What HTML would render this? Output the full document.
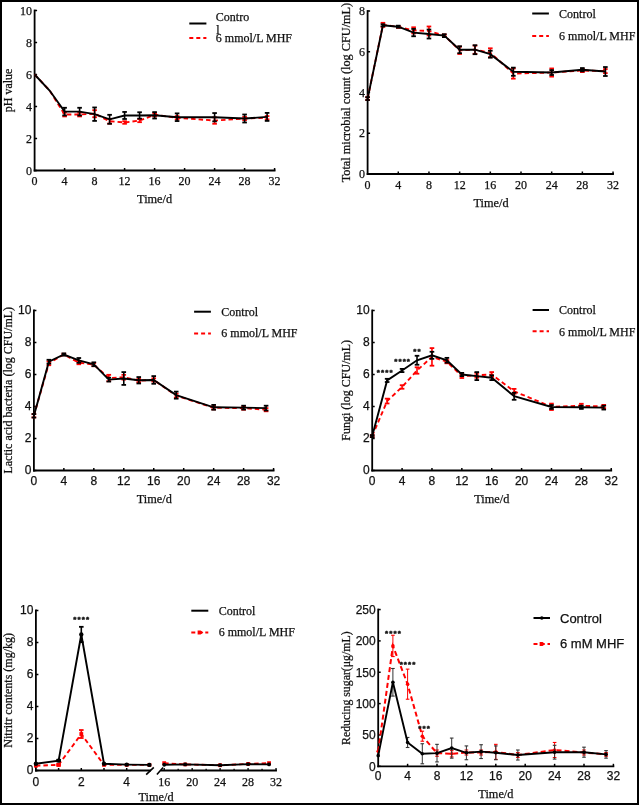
<!DOCTYPE html>
<html><head><meta charset="utf-8"><title>Figure</title>
<style>html,body{margin:0;padding:0;background:#fff;}svg{display:block;will-change:transform;}text{stroke:#111;stroke-width:0.25px;}</style>
</head><body>
<svg width="639" height="805" viewBox="0 0 639 805">
<rect x="0" y="0" width="639" height="805" fill="#fff"/>
<line x1="34.6" y1="9.6" x2="34.6" y2="171.4" stroke="#000" stroke-width="1.8" stroke-linecap="butt"/>
<line x1="33.7" y1="170.5" x2="275.5" y2="170.5" stroke="#000" stroke-width="1.8" stroke-linecap="butt"/>
<line x1="34.6" y1="170.5" x2="37.1" y2="170.5" stroke="#000" stroke-width="1.5" stroke-linecap="butt"/>
<text x="32.1" y="174.6" font-size="12" font-family="'Liberation Serif', 'Times New Roman', serif" text-anchor="end" fill="#111">0</text>
<line x1="34.6" y1="138.5" x2="37.1" y2="138.5" stroke="#000" stroke-width="1.5" stroke-linecap="butt"/>
<text x="32.1" y="142.6" font-size="12" font-family="'Liberation Serif', 'Times New Roman', serif" text-anchor="end" fill="#111">2</text>
<line x1="34.6" y1="106.5" x2="37.1" y2="106.5" stroke="#000" stroke-width="1.5" stroke-linecap="butt"/>
<text x="32.1" y="110.6" font-size="12" font-family="'Liberation Serif', 'Times New Roman', serif" text-anchor="end" fill="#111">4</text>
<line x1="34.6" y1="74.5" x2="37.1" y2="74.5" stroke="#000" stroke-width="1.5" stroke-linecap="butt"/>
<text x="32.1" y="78.6" font-size="12" font-family="'Liberation Serif', 'Times New Roman', serif" text-anchor="end" fill="#111">6</text>
<line x1="34.6" y1="42.5" x2="37.1" y2="42.5" stroke="#000" stroke-width="1.5" stroke-linecap="butt"/>
<text x="32.1" y="46.6" font-size="12" font-family="'Liberation Serif', 'Times New Roman', serif" text-anchor="end" fill="#111">8</text>
<line x1="34.6" y1="10.5" x2="37.1" y2="10.5" stroke="#000" stroke-width="1.5" stroke-linecap="butt"/>
<text x="32.1" y="14.6" font-size="12" font-family="'Liberation Serif', 'Times New Roman', serif" text-anchor="end" fill="#111">10</text>
<text x="34.6" y="184.5" font-size="12" font-family="'Liberation Serif', 'Times New Roman', serif" text-anchor="middle" fill="#111">0</text>
<line x1="64.6" y1="170.5" x2="64.6" y2="168" stroke="#000" stroke-width="1.5" stroke-linecap="butt"/>
<text x="64.6" y="184.5" font-size="12" font-family="'Liberation Serif', 'Times New Roman', serif" text-anchor="middle" fill="#111">4</text>
<line x1="94.6" y1="170.5" x2="94.6" y2="168" stroke="#000" stroke-width="1.5" stroke-linecap="butt"/>
<text x="94.6" y="184.5" font-size="12" font-family="'Liberation Serif', 'Times New Roman', serif" text-anchor="middle" fill="#111">8</text>
<line x1="124.6" y1="170.5" x2="124.6" y2="168" stroke="#000" stroke-width="1.5" stroke-linecap="butt"/>
<text x="124.6" y="184.5" font-size="12" font-family="'Liberation Serif', 'Times New Roman', serif" text-anchor="middle" fill="#111">12</text>
<line x1="154.6" y1="170.5" x2="154.6" y2="168" stroke="#000" stroke-width="1.5" stroke-linecap="butt"/>
<text x="154.6" y="184.5" font-size="12" font-family="'Liberation Serif', 'Times New Roman', serif" text-anchor="middle" fill="#111">16</text>
<line x1="184.6" y1="170.5" x2="184.6" y2="168" stroke="#000" stroke-width="1.5" stroke-linecap="butt"/>
<text x="184.6" y="184.5" font-size="12" font-family="'Liberation Serif', 'Times New Roman', serif" text-anchor="middle" fill="#111">20</text>
<line x1="214.6" y1="170.5" x2="214.6" y2="168" stroke="#000" stroke-width="1.5" stroke-linecap="butt"/>
<text x="214.6" y="184.5" font-size="12" font-family="'Liberation Serif', 'Times New Roman', serif" text-anchor="middle" fill="#111">24</text>
<line x1="244.6" y1="170.5" x2="244.6" y2="168" stroke="#000" stroke-width="1.5" stroke-linecap="butt"/>
<text x="244.6" y="184.5" font-size="12" font-family="'Liberation Serif', 'Times New Roman', serif" text-anchor="middle" fill="#111">28</text>
<line x1="274.6" y1="170.5" x2="274.6" y2="168" stroke="#000" stroke-width="1.5" stroke-linecap="butt"/>
<text x="274.6" y="184.5" font-size="12" font-family="'Liberation Serif', 'Times New Roman', serif" text-anchor="middle" fill="#111">32</text>
<line x1="64.6" y1="112.58" x2="64.6" y2="116.42" stroke="#f00" stroke-width="1.6" stroke-linecap="butt"/>
<line x1="62.3" y1="112.58" x2="66.9" y2="112.58" stroke="#f00" stroke-width="1.8" stroke-linecap="butt"/>
<line x1="62.3" y1="116.42" x2="66.9" y2="116.42" stroke="#f00" stroke-width="1.8" stroke-linecap="butt"/>
<line x1="79.6" y1="112.58" x2="79.6" y2="116.42" stroke="#f00" stroke-width="1.6" stroke-linecap="butt"/>
<line x1="77.3" y1="112.58" x2="81.9" y2="112.58" stroke="#f00" stroke-width="1.8" stroke-linecap="butt"/>
<line x1="77.3" y1="116.42" x2="81.9" y2="116.42" stroke="#f00" stroke-width="1.8" stroke-linecap="butt"/>
<line x1="94.6" y1="110.18" x2="94.6" y2="117.22" stroke="#f00" stroke-width="1.6" stroke-linecap="butt"/>
<line x1="92.3" y1="110.18" x2="96.9" y2="110.18" stroke="#f00" stroke-width="1.8" stroke-linecap="butt"/>
<line x1="92.3" y1="117.22" x2="96.9" y2="117.22" stroke="#f00" stroke-width="1.8" stroke-linecap="butt"/>
<line x1="109.6" y1="118.82" x2="109.6" y2="123.62" stroke="#f00" stroke-width="1.6" stroke-linecap="butt"/>
<line x1="107.3" y1="118.82" x2="111.9" y2="118.82" stroke="#f00" stroke-width="1.8" stroke-linecap="butt"/>
<line x1="107.3" y1="123.62" x2="111.9" y2="123.62" stroke="#f00" stroke-width="1.8" stroke-linecap="butt"/>
<line x1="124.6" y1="121.22" x2="124.6" y2="123.78" stroke="#f00" stroke-width="1.6" stroke-linecap="butt"/>
<line x1="122.3" y1="121.22" x2="126.9" y2="121.22" stroke="#f00" stroke-width="1.8" stroke-linecap="butt"/>
<line x1="122.3" y1="123.78" x2="126.9" y2="123.78" stroke="#f00" stroke-width="1.8" stroke-linecap="butt"/>
<line x1="139.6" y1="118.98" x2="139.6" y2="122.18" stroke="#f00" stroke-width="1.6" stroke-linecap="butt"/>
<line x1="137.3" y1="118.98" x2="141.9" y2="118.98" stroke="#f00" stroke-width="1.8" stroke-linecap="butt"/>
<line x1="137.3" y1="122.18" x2="141.9" y2="122.18" stroke="#f00" stroke-width="1.8" stroke-linecap="butt"/>
<line x1="154.6" y1="113.22" x2="154.6" y2="116.42" stroke="#f00" stroke-width="1.6" stroke-linecap="butt"/>
<line x1="152.3" y1="113.22" x2="156.9" y2="113.22" stroke="#f00" stroke-width="1.8" stroke-linecap="butt"/>
<line x1="152.3" y1="116.42" x2="156.9" y2="116.42" stroke="#f00" stroke-width="1.8" stroke-linecap="butt"/>
<line x1="177.1" y1="116.1" x2="177.1" y2="119.3" stroke="#f00" stroke-width="1.6" stroke-linecap="butt"/>
<line x1="174.8" y1="116.1" x2="179.4" y2="116.1" stroke="#f00" stroke-width="1.8" stroke-linecap="butt"/>
<line x1="174.8" y1="119.3" x2="179.4" y2="119.3" stroke="#f00" stroke-width="1.8" stroke-linecap="butt"/>
<line x1="214.6" y1="117.38" x2="214.6" y2="123.78" stroke="#f00" stroke-width="1.6" stroke-linecap="butt"/>
<line x1="212.3" y1="117.38" x2="216.9" y2="117.38" stroke="#f00" stroke-width="1.8" stroke-linecap="butt"/>
<line x1="212.3" y1="123.78" x2="216.9" y2="123.78" stroke="#f00" stroke-width="1.8" stroke-linecap="butt"/>
<line x1="244.6" y1="116.9" x2="244.6" y2="120.1" stroke="#f00" stroke-width="1.6" stroke-linecap="butt"/>
<line x1="242.3" y1="116.9" x2="246.9" y2="116.9" stroke="#f00" stroke-width="1.8" stroke-linecap="butt"/>
<line x1="242.3" y1="120.1" x2="246.9" y2="120.1" stroke="#f00" stroke-width="1.8" stroke-linecap="butt"/>
<line x1="267.1" y1="116.1" x2="267.1" y2="119.3" stroke="#f00" stroke-width="1.6" stroke-linecap="butt"/>
<line x1="264.8" y1="116.1" x2="269.4" y2="116.1" stroke="#f00" stroke-width="1.8" stroke-linecap="butt"/>
<line x1="264.8" y1="119.3" x2="269.4" y2="119.3" stroke="#f00" stroke-width="1.8" stroke-linecap="butt"/>
<polyline points="34.6,74.5 49.6,90.5 64.6,114.5 79.6,114.5 94.6,113.7 109.6,121.22 124.6,122.5 139.6,120.58 154.6,114.82 177.1,117.7 214.6,120.58 244.6,118.5 267.1,117.7" fill="none" stroke="#f00" stroke-width="1.9" stroke-linejoin="miter" stroke-dasharray="4.5,3"/>
<line x1="64.6" y1="107.78" x2="64.6" y2="115.46" stroke="#000" stroke-width="1.6" stroke-linecap="butt"/>
<line x1="62.3" y1="107.78" x2="66.9" y2="107.78" stroke="#000" stroke-width="1.8" stroke-linecap="butt"/>
<line x1="62.3" y1="115.46" x2="66.9" y2="115.46" stroke="#000" stroke-width="1.8" stroke-linecap="butt"/>
<line x1="79.6" y1="107.78" x2="79.6" y2="115.46" stroke="#000" stroke-width="1.6" stroke-linecap="butt"/>
<line x1="77.3" y1="107.78" x2="81.9" y2="107.78" stroke="#000" stroke-width="1.8" stroke-linecap="butt"/>
<line x1="77.3" y1="115.46" x2="81.9" y2="115.46" stroke="#000" stroke-width="1.8" stroke-linecap="butt"/>
<line x1="94.6" y1="107.46" x2="94.6" y2="120.9" stroke="#000" stroke-width="1.6" stroke-linecap="butt"/>
<line x1="92.3" y1="107.46" x2="96.9" y2="107.46" stroke="#000" stroke-width="1.8" stroke-linecap="butt"/>
<line x1="92.3" y1="120.9" x2="96.9" y2="120.9" stroke="#000" stroke-width="1.8" stroke-linecap="butt"/>
<line x1="109.6" y1="114.82" x2="109.6" y2="123.78" stroke="#000" stroke-width="1.6" stroke-linecap="butt"/>
<line x1="107.3" y1="114.82" x2="111.9" y2="114.82" stroke="#000" stroke-width="1.8" stroke-linecap="butt"/>
<line x1="107.3" y1="123.78" x2="111.9" y2="123.78" stroke="#000" stroke-width="1.8" stroke-linecap="butt"/>
<line x1="124.6" y1="111.94" x2="124.6" y2="118.98" stroke="#000" stroke-width="1.6" stroke-linecap="butt"/>
<line x1="122.3" y1="111.94" x2="126.9" y2="111.94" stroke="#000" stroke-width="1.8" stroke-linecap="butt"/>
<line x1="122.3" y1="118.98" x2="126.9" y2="118.98" stroke="#000" stroke-width="1.8" stroke-linecap="butt"/>
<line x1="139.6" y1="112.26" x2="139.6" y2="118.66" stroke="#000" stroke-width="1.6" stroke-linecap="butt"/>
<line x1="137.3" y1="112.26" x2="141.9" y2="112.26" stroke="#000" stroke-width="1.8" stroke-linecap="butt"/>
<line x1="137.3" y1="118.66" x2="141.9" y2="118.66" stroke="#000" stroke-width="1.8" stroke-linecap="butt"/>
<line x1="154.6" y1="112.1" x2="154.6" y2="118.5" stroke="#000" stroke-width="1.6" stroke-linecap="butt"/>
<line x1="152.3" y1="112.1" x2="156.9" y2="112.1" stroke="#000" stroke-width="1.8" stroke-linecap="butt"/>
<line x1="152.3" y1="118.5" x2="156.9" y2="118.5" stroke="#000" stroke-width="1.8" stroke-linecap="butt"/>
<line x1="177.1" y1="113.38" x2="177.1" y2="121.06" stroke="#000" stroke-width="1.6" stroke-linecap="butt"/>
<line x1="174.8" y1="113.38" x2="179.4" y2="113.38" stroke="#000" stroke-width="1.8" stroke-linecap="butt"/>
<line x1="174.8" y1="121.06" x2="179.4" y2="121.06" stroke="#000" stroke-width="1.8" stroke-linecap="butt"/>
<line x1="214.6" y1="113.06" x2="214.6" y2="121.38" stroke="#000" stroke-width="1.6" stroke-linecap="butt"/>
<line x1="212.3" y1="113.06" x2="216.9" y2="113.06" stroke="#000" stroke-width="1.8" stroke-linecap="butt"/>
<line x1="212.3" y1="121.38" x2="216.9" y2="121.38" stroke="#000" stroke-width="1.8" stroke-linecap="butt"/>
<line x1="244.6" y1="114.5" x2="244.6" y2="122.5" stroke="#000" stroke-width="1.6" stroke-linecap="butt"/>
<line x1="242.3" y1="114.5" x2="246.9" y2="114.5" stroke="#000" stroke-width="1.8" stroke-linecap="butt"/>
<line x1="242.3" y1="122.5" x2="246.9" y2="122.5" stroke="#000" stroke-width="1.8" stroke-linecap="butt"/>
<line x1="267.1" y1="112.9" x2="267.1" y2="120.9" stroke="#000" stroke-width="1.6" stroke-linecap="butt"/>
<line x1="264.8" y1="112.9" x2="269.4" y2="112.9" stroke="#000" stroke-width="1.8" stroke-linecap="butt"/>
<line x1="264.8" y1="120.9" x2="269.4" y2="120.9" stroke="#000" stroke-width="1.8" stroke-linecap="butt"/>
<polyline points="34.6,74.5 49.6,90.5 64.6,111.62 79.6,111.62 94.6,114.18 109.6,119.3 124.6,115.46 139.6,115.46 154.6,115.3 177.1,117.22 214.6,117.22 244.6,118.5 267.1,116.9" fill="none" stroke="#000" stroke-width="1.9" stroke-linejoin="miter"/>
<text x="11.9" y="90.4" font-size="12" font-family="'Liberation Serif', 'Times New Roman', serif" text-anchor="middle" fill="#111" transform="rotate(-90 11.9 90.4)">pH value</text>
<text x="154.6" y="203" font-size="12.3" font-family="'Liberation Serif', 'Times New Roman', serif" text-anchor="middle" fill="#111">Time/d</text>
<line x1="189.3" y1="23.5" x2="206.4" y2="23.5" stroke="#000" stroke-width="2" stroke-linecap="butt"/>
<line x1="189.3" y1="38" x2="206.4" y2="38" stroke="#f00" stroke-width="2" stroke-linecap="butt" stroke-dasharray="4,3"/>
<text x="215.8" y="20.7" font-size="12" font-family="'Liberation Serif', 'Times New Roman', serif" text-anchor="start" fill="#111">Contro</text>
<text x="216.2" y="33.6" font-size="12" font-family="'Liberation Serif', 'Times New Roman', serif" text-anchor="start" fill="#111">l</text>
<text x="215.8" y="42.3" font-size="12" font-family="'Liberation Serif', 'Times New Roman', serif" text-anchor="start" fill="#111">6 mmol/L MHF</text>
<line x1="367.6" y1="10.1" x2="367.6" y2="174.9" stroke="#000" stroke-width="1.8" stroke-linecap="butt"/>
<line x1="366.7" y1="174" x2="613.94" y2="174" stroke="#000" stroke-width="1.8" stroke-linecap="butt"/>
<line x1="367.6" y1="174" x2="370.1" y2="174" stroke="#000" stroke-width="1.5" stroke-linecap="butt"/>
<text x="365.1" y="178.1" font-size="12" font-family="'Liberation Serif', 'Times New Roman', serif" text-anchor="end" fill="#111">0</text>
<line x1="367.6" y1="133.25" x2="370.1" y2="133.25" stroke="#000" stroke-width="1.5" stroke-linecap="butt"/>
<text x="365.1" y="137.35" font-size="12" font-family="'Liberation Serif', 'Times New Roman', serif" text-anchor="end" fill="#111">2</text>
<line x1="367.6" y1="92.5" x2="370.1" y2="92.5" stroke="#000" stroke-width="1.5" stroke-linecap="butt"/>
<text x="365.1" y="96.6" font-size="12" font-family="'Liberation Serif', 'Times New Roman', serif" text-anchor="end" fill="#111">4</text>
<line x1="367.6" y1="51.75" x2="370.1" y2="51.75" stroke="#000" stroke-width="1.5" stroke-linecap="butt"/>
<text x="365.1" y="55.85" font-size="12" font-family="'Liberation Serif', 'Times New Roman', serif" text-anchor="end" fill="#111">6</text>
<line x1="367.6" y1="11" x2="370.1" y2="11" stroke="#000" stroke-width="1.5" stroke-linecap="butt"/>
<text x="365.1" y="15.1" font-size="12" font-family="'Liberation Serif', 'Times New Roman', serif" text-anchor="end" fill="#111">8</text>
<text x="367.6" y="189" font-size="12" font-family="'Liberation Serif', 'Times New Roman', serif" text-anchor="middle" fill="#111">0</text>
<line x1="398.28" y1="174" x2="398.28" y2="171.5" stroke="#000" stroke-width="1.5" stroke-linecap="butt"/>
<text x="398.28" y="189" font-size="12" font-family="'Liberation Serif', 'Times New Roman', serif" text-anchor="middle" fill="#111">4</text>
<line x1="428.96" y1="174" x2="428.96" y2="171.5" stroke="#000" stroke-width="1.5" stroke-linecap="butt"/>
<text x="428.96" y="189" font-size="12" font-family="'Liberation Serif', 'Times New Roman', serif" text-anchor="middle" fill="#111">8</text>
<line x1="459.64" y1="174" x2="459.64" y2="171.5" stroke="#000" stroke-width="1.5" stroke-linecap="butt"/>
<text x="459.64" y="189" font-size="12" font-family="'Liberation Serif', 'Times New Roman', serif" text-anchor="middle" fill="#111">12</text>
<line x1="490.32" y1="174" x2="490.32" y2="171.5" stroke="#000" stroke-width="1.5" stroke-linecap="butt"/>
<text x="490.32" y="189" font-size="12" font-family="'Liberation Serif', 'Times New Roman', serif" text-anchor="middle" fill="#111">16</text>
<line x1="521" y1="174" x2="521" y2="171.5" stroke="#000" stroke-width="1.5" stroke-linecap="butt"/>
<text x="521" y="189" font-size="12" font-family="'Liberation Serif', 'Times New Roman', serif" text-anchor="middle" fill="#111">20</text>
<line x1="551.68" y1="174" x2="551.68" y2="171.5" stroke="#000" stroke-width="1.5" stroke-linecap="butt"/>
<text x="551.68" y="189" font-size="12" font-family="'Liberation Serif', 'Times New Roman', serif" text-anchor="middle" fill="#111">24</text>
<line x1="582.36" y1="174" x2="582.36" y2="171.5" stroke="#000" stroke-width="1.5" stroke-linecap="butt"/>
<text x="582.36" y="189" font-size="12" font-family="'Liberation Serif', 'Times New Roman', serif" text-anchor="middle" fill="#111">28</text>
<line x1="613.04" y1="174" x2="613.04" y2="171.5" stroke="#000" stroke-width="1.5" stroke-linecap="butt"/>
<text x="613.04" y="189" font-size="12" font-family="'Liberation Serif', 'Times New Roman', serif" text-anchor="middle" fill="#111">32</text>
<line x1="367.6" y1="97.19" x2="367.6" y2="100.04" stroke="#f00" stroke-width="1.6" stroke-linecap="butt"/>
<line x1="365.3" y1="97.19" x2="369.9" y2="97.19" stroke="#f00" stroke-width="1.8" stroke-linecap="butt"/>
<line x1="365.3" y1="100.04" x2="369.9" y2="100.04" stroke="#f00" stroke-width="1.8" stroke-linecap="butt"/>
<line x1="382.94" y1="22.82" x2="382.94" y2="26.89" stroke="#f00" stroke-width="1.6" stroke-linecap="butt"/>
<line x1="380.64" y1="22.82" x2="385.24" y2="22.82" stroke="#f00" stroke-width="1.8" stroke-linecap="butt"/>
<line x1="380.64" y1="26.89" x2="385.24" y2="26.89" stroke="#f00" stroke-width="1.8" stroke-linecap="butt"/>
<line x1="398.28" y1="25.87" x2="398.28" y2="27.91" stroke="#f00" stroke-width="1.6" stroke-linecap="butt"/>
<line x1="395.98" y1="25.87" x2="400.58" y2="25.87" stroke="#f00" stroke-width="1.8" stroke-linecap="butt"/>
<line x1="395.98" y1="27.91" x2="400.58" y2="27.91" stroke="#f00" stroke-width="1.8" stroke-linecap="butt"/>
<line x1="413.62" y1="27.3" x2="413.62" y2="33.41" stroke="#f00" stroke-width="1.6" stroke-linecap="butt"/>
<line x1="411.32" y1="27.3" x2="415.92" y2="27.3" stroke="#f00" stroke-width="1.8" stroke-linecap="butt"/>
<line x1="411.32" y1="33.41" x2="415.92" y2="33.41" stroke="#f00" stroke-width="1.8" stroke-linecap="butt"/>
<line x1="428.96" y1="26.49" x2="428.96" y2="35.45" stroke="#f00" stroke-width="1.6" stroke-linecap="butt"/>
<line x1="426.66" y1="26.49" x2="431.26" y2="26.49" stroke="#f00" stroke-width="1.8" stroke-linecap="butt"/>
<line x1="426.66" y1="35.45" x2="431.26" y2="35.45" stroke="#f00" stroke-width="1.8" stroke-linecap="butt"/>
<line x1="444.3" y1="34.43" x2="444.3" y2="36.47" stroke="#f00" stroke-width="1.6" stroke-linecap="butt"/>
<line x1="442" y1="34.43" x2="446.6" y2="34.43" stroke="#f00" stroke-width="1.8" stroke-linecap="butt"/>
<line x1="442" y1="36.47" x2="446.6" y2="36.47" stroke="#f00" stroke-width="1.8" stroke-linecap="butt"/>
<line x1="459.64" y1="46.66" x2="459.64" y2="53.99" stroke="#f00" stroke-width="1.6" stroke-linecap="butt"/>
<line x1="457.34" y1="46.66" x2="461.94" y2="46.66" stroke="#f00" stroke-width="1.8" stroke-linecap="butt"/>
<line x1="457.34" y1="53.99" x2="461.94" y2="53.99" stroke="#f00" stroke-width="1.8" stroke-linecap="butt"/>
<line x1="474.98" y1="45.64" x2="474.98" y2="53.79" stroke="#f00" stroke-width="1.6" stroke-linecap="butt"/>
<line x1="472.68" y1="45.64" x2="477.28" y2="45.64" stroke="#f00" stroke-width="1.8" stroke-linecap="butt"/>
<line x1="472.68" y1="53.79" x2="477.28" y2="53.79" stroke="#f00" stroke-width="1.8" stroke-linecap="butt"/>
<line x1="490.32" y1="48.29" x2="490.32" y2="57.25" stroke="#f00" stroke-width="1.6" stroke-linecap="butt"/>
<line x1="488.02" y1="48.29" x2="492.62" y2="48.29" stroke="#f00" stroke-width="1.8" stroke-linecap="butt"/>
<line x1="488.02" y1="57.25" x2="492.62" y2="57.25" stroke="#f00" stroke-width="1.8" stroke-linecap="butt"/>
<line x1="513.33" y1="68.46" x2="513.33" y2="78.65" stroke="#f00" stroke-width="1.6" stroke-linecap="butt"/>
<line x1="511.03" y1="68.46" x2="515.63" y2="68.46" stroke="#f00" stroke-width="1.8" stroke-linecap="butt"/>
<line x1="511.03" y1="78.65" x2="515.63" y2="78.65" stroke="#f00" stroke-width="1.8" stroke-linecap="butt"/>
<line x1="551.68" y1="68.46" x2="551.68" y2="76.61" stroke="#f00" stroke-width="1.6" stroke-linecap="butt"/>
<line x1="549.38" y1="68.46" x2="553.98" y2="68.46" stroke="#f00" stroke-width="1.8" stroke-linecap="butt"/>
<line x1="549.38" y1="76.61" x2="553.98" y2="76.61" stroke="#f00" stroke-width="1.8" stroke-linecap="butt"/>
<line x1="582.36" y1="68.86" x2="582.36" y2="72.12" stroke="#f00" stroke-width="1.6" stroke-linecap="butt"/>
<line x1="580.06" y1="68.86" x2="584.66" y2="68.86" stroke="#f00" stroke-width="1.8" stroke-linecap="butt"/>
<line x1="580.06" y1="72.12" x2="584.66" y2="72.12" stroke="#f00" stroke-width="1.8" stroke-linecap="butt"/>
<line x1="605.37" y1="69.07" x2="605.37" y2="73.14" stroke="#f00" stroke-width="1.6" stroke-linecap="butt"/>
<line x1="603.07" y1="69.07" x2="607.67" y2="69.07" stroke="#f00" stroke-width="1.8" stroke-linecap="butt"/>
<line x1="603.07" y1="73.14" x2="607.67" y2="73.14" stroke="#f00" stroke-width="1.8" stroke-linecap="butt"/>
<polyline points="367.6,98.61 382.94,24.85 398.28,26.89 413.62,30.36 428.96,30.97 444.3,35.45 459.64,50.32 474.98,49.71 490.32,52.77 513.33,73.55 551.68,72.53 582.36,70.5 605.37,71.11" fill="none" stroke="#f00" stroke-width="1.9" stroke-linejoin="miter" stroke-dasharray="4.5,3"/>
<line x1="367.6" y1="97.19" x2="367.6" y2="100.04" stroke="#000" stroke-width="1.6" stroke-linecap="butt"/>
<line x1="365.3" y1="97.19" x2="369.9" y2="97.19" stroke="#000" stroke-width="1.8" stroke-linecap="butt"/>
<line x1="365.3" y1="100.04" x2="369.9" y2="100.04" stroke="#000" stroke-width="1.8" stroke-linecap="butt"/>
<line x1="382.94" y1="24.24" x2="382.94" y2="26.28" stroke="#000" stroke-width="1.6" stroke-linecap="butt"/>
<line x1="380.64" y1="24.24" x2="385.24" y2="24.24" stroke="#000" stroke-width="1.8" stroke-linecap="butt"/>
<line x1="380.64" y1="26.28" x2="385.24" y2="26.28" stroke="#000" stroke-width="1.8" stroke-linecap="butt"/>
<line x1="398.28" y1="25.67" x2="398.28" y2="27.71" stroke="#000" stroke-width="1.6" stroke-linecap="butt"/>
<line x1="395.98" y1="25.67" x2="400.58" y2="25.67" stroke="#000" stroke-width="1.8" stroke-linecap="butt"/>
<line x1="395.98" y1="27.71" x2="400.58" y2="27.71" stroke="#000" stroke-width="1.8" stroke-linecap="butt"/>
<line x1="413.62" y1="28.93" x2="413.62" y2="36.26" stroke="#000" stroke-width="1.6" stroke-linecap="butt"/>
<line x1="411.32" y1="28.93" x2="415.92" y2="28.93" stroke="#000" stroke-width="1.8" stroke-linecap="butt"/>
<line x1="411.32" y1="36.26" x2="415.92" y2="36.26" stroke="#000" stroke-width="1.8" stroke-linecap="butt"/>
<line x1="428.96" y1="29.54" x2="428.96" y2="38.51" stroke="#000" stroke-width="1.6" stroke-linecap="butt"/>
<line x1="426.66" y1="29.54" x2="431.26" y2="29.54" stroke="#000" stroke-width="1.8" stroke-linecap="butt"/>
<line x1="426.66" y1="38.51" x2="431.26" y2="38.51" stroke="#000" stroke-width="1.8" stroke-linecap="butt"/>
<line x1="444.3" y1="34.23" x2="444.3" y2="37.08" stroke="#000" stroke-width="1.6" stroke-linecap="butt"/>
<line x1="442" y1="34.23" x2="446.6" y2="34.23" stroke="#000" stroke-width="1.8" stroke-linecap="butt"/>
<line x1="442" y1="37.08" x2="446.6" y2="37.08" stroke="#000" stroke-width="1.8" stroke-linecap="butt"/>
<line x1="459.64" y1="46.25" x2="459.64" y2="53.18" stroke="#000" stroke-width="1.6" stroke-linecap="butt"/>
<line x1="457.34" y1="46.25" x2="461.94" y2="46.25" stroke="#000" stroke-width="1.8" stroke-linecap="butt"/>
<line x1="457.34" y1="53.18" x2="461.94" y2="53.18" stroke="#000" stroke-width="1.8" stroke-linecap="butt"/>
<line x1="474.98" y1="45.23" x2="474.98" y2="54.2" stroke="#000" stroke-width="1.6" stroke-linecap="butt"/>
<line x1="472.68" y1="45.23" x2="477.28" y2="45.23" stroke="#000" stroke-width="1.8" stroke-linecap="butt"/>
<line x1="472.68" y1="54.2" x2="477.28" y2="54.2" stroke="#000" stroke-width="1.8" stroke-linecap="butt"/>
<line x1="490.32" y1="50.73" x2="490.32" y2="57.66" stroke="#000" stroke-width="1.6" stroke-linecap="butt"/>
<line x1="488.02" y1="50.73" x2="492.62" y2="50.73" stroke="#000" stroke-width="1.8" stroke-linecap="butt"/>
<line x1="488.02" y1="57.66" x2="492.62" y2="57.66" stroke="#000" stroke-width="1.8" stroke-linecap="butt"/>
<line x1="513.33" y1="67.64" x2="513.33" y2="75.79" stroke="#000" stroke-width="1.6" stroke-linecap="butt"/>
<line x1="511.03" y1="67.64" x2="515.63" y2="67.64" stroke="#000" stroke-width="1.8" stroke-linecap="butt"/>
<line x1="511.03" y1="75.79" x2="515.63" y2="75.79" stroke="#000" stroke-width="1.8" stroke-linecap="butt"/>
<line x1="551.68" y1="70.09" x2="551.68" y2="74.98" stroke="#000" stroke-width="1.6" stroke-linecap="butt"/>
<line x1="549.38" y1="70.09" x2="553.98" y2="70.09" stroke="#000" stroke-width="1.8" stroke-linecap="butt"/>
<line x1="549.38" y1="74.98" x2="553.98" y2="74.98" stroke="#000" stroke-width="1.8" stroke-linecap="butt"/>
<line x1="582.36" y1="68.05" x2="582.36" y2="71.31" stroke="#000" stroke-width="1.6" stroke-linecap="butt"/>
<line x1="580.06" y1="68.05" x2="584.66" y2="68.05" stroke="#000" stroke-width="1.8" stroke-linecap="butt"/>
<line x1="580.06" y1="71.31" x2="584.66" y2="71.31" stroke="#000" stroke-width="1.8" stroke-linecap="butt"/>
<line x1="605.37" y1="67.03" x2="605.37" y2="76" stroke="#000" stroke-width="1.6" stroke-linecap="butt"/>
<line x1="603.07" y1="67.03" x2="607.67" y2="67.03" stroke="#000" stroke-width="1.8" stroke-linecap="butt"/>
<line x1="603.07" y1="76" x2="607.67" y2="76" stroke="#000" stroke-width="1.8" stroke-linecap="butt"/>
<polyline points="367.6,98.61 382.94,25.26 398.28,26.69 413.62,32.6 428.96,34.02 444.3,35.65 459.64,49.71 474.98,49.71 490.32,54.2 513.33,71.72 551.68,72.53 582.36,69.68 605.37,71.51" fill="none" stroke="#000" stroke-width="1.9" stroke-linejoin="miter"/>
<text x="350.3" y="92.6" font-size="12.25" font-family="'Liberation Serif', 'Times New Roman', serif" text-anchor="middle" fill="#111" transform="rotate(-90 350.3 92.6)">Total microbial count (log CFU/mL)</text>
<text x="491" y="207.1" font-size="12.3" font-family="'Liberation Serif', 'Times New Roman', serif" text-anchor="middle" fill="#111">Time/d</text>
<line x1="532.2" y1="13.5" x2="548.9" y2="13.5" stroke="#000" stroke-width="2" stroke-linecap="butt"/>
<line x1="532.2" y1="35.9" x2="548.9" y2="35.9" stroke="#f00" stroke-width="2" stroke-linecap="butt" stroke-dasharray="4,3"/>
<text x="559.1" y="17.8" font-size="12" font-family="'Liberation Serif', 'Times New Roman', serif" text-anchor="start" fill="#111">Control</text>
<text x="559.1" y="40.2" font-size="12" font-family="'Liberation Serif', 'Times New Roman', serif" text-anchor="start" fill="#111">6 mmol/L MHF</text>
<line x1="33.9" y1="309.6" x2="33.9" y2="471.4" stroke="#000" stroke-width="1.8" stroke-linecap="butt"/>
<line x1="33" y1="470.5" x2="274.48" y2="470.5" stroke="#000" stroke-width="1.8" stroke-linecap="butt"/>
<line x1="33.9" y1="470.5" x2="36.4" y2="470.5" stroke="#000" stroke-width="1.5" stroke-linecap="butt"/>
<text x="31.4" y="474.1" font-size="12" font-family="'Liberation Sans', Arial, sans-serif" text-anchor="end" fill="#111">0</text>
<line x1="33.9" y1="438.5" x2="36.4" y2="438.5" stroke="#000" stroke-width="1.5" stroke-linecap="butt"/>
<text x="31.4" y="442.1" font-size="12" font-family="'Liberation Sans', Arial, sans-serif" text-anchor="end" fill="#111">2</text>
<line x1="33.9" y1="406.5" x2="36.4" y2="406.5" stroke="#000" stroke-width="1.5" stroke-linecap="butt"/>
<text x="31.4" y="410.1" font-size="12" font-family="'Liberation Sans', Arial, sans-serif" text-anchor="end" fill="#111">4</text>
<line x1="33.9" y1="374.5" x2="36.4" y2="374.5" stroke="#000" stroke-width="1.5" stroke-linecap="butt"/>
<text x="31.4" y="378.1" font-size="12" font-family="'Liberation Sans', Arial, sans-serif" text-anchor="end" fill="#111">6</text>
<line x1="33.9" y1="342.5" x2="36.4" y2="342.5" stroke="#000" stroke-width="1.5" stroke-linecap="butt"/>
<text x="31.4" y="346.1" font-size="12" font-family="'Liberation Sans', Arial, sans-serif" text-anchor="end" fill="#111">8</text>
<line x1="33.9" y1="310.5" x2="36.4" y2="310.5" stroke="#000" stroke-width="1.5" stroke-linecap="butt"/>
<text x="31.4" y="314.1" font-size="12" font-family="'Liberation Sans', Arial, sans-serif" text-anchor="end" fill="#111">10</text>
<text x="33.9" y="484.6" font-size="12" font-family="'Liberation Sans', Arial, sans-serif" text-anchor="middle" fill="#111">0</text>
<line x1="63.86" y1="470.5" x2="63.86" y2="468" stroke="#000" stroke-width="1.5" stroke-linecap="butt"/>
<text x="63.86" y="484.6" font-size="12" font-family="'Liberation Sans', Arial, sans-serif" text-anchor="middle" fill="#111">4</text>
<line x1="93.82" y1="470.5" x2="93.82" y2="468" stroke="#000" stroke-width="1.5" stroke-linecap="butt"/>
<text x="93.82" y="484.6" font-size="12" font-family="'Liberation Sans', Arial, sans-serif" text-anchor="middle" fill="#111">8</text>
<line x1="123.78" y1="470.5" x2="123.78" y2="468" stroke="#000" stroke-width="1.5" stroke-linecap="butt"/>
<text x="123.78" y="484.6" font-size="12" font-family="'Liberation Sans', Arial, sans-serif" text-anchor="middle" fill="#111">12</text>
<line x1="153.74" y1="470.5" x2="153.74" y2="468" stroke="#000" stroke-width="1.5" stroke-linecap="butt"/>
<text x="153.74" y="484.6" font-size="12" font-family="'Liberation Sans', Arial, sans-serif" text-anchor="middle" fill="#111">16</text>
<line x1="183.7" y1="470.5" x2="183.7" y2="468" stroke="#000" stroke-width="1.5" stroke-linecap="butt"/>
<text x="183.7" y="484.6" font-size="12" font-family="'Liberation Sans', Arial, sans-serif" text-anchor="middle" fill="#111">20</text>
<line x1="213.66" y1="470.5" x2="213.66" y2="468" stroke="#000" stroke-width="1.5" stroke-linecap="butt"/>
<text x="213.66" y="484.6" font-size="12" font-family="'Liberation Sans', Arial, sans-serif" text-anchor="middle" fill="#111">24</text>
<line x1="243.62" y1="470.5" x2="243.62" y2="468" stroke="#000" stroke-width="1.5" stroke-linecap="butt"/>
<text x="243.62" y="484.6" font-size="12" font-family="'Liberation Sans', Arial, sans-serif" text-anchor="middle" fill="#111">28</text>
<line x1="273.58" y1="470.5" x2="273.58" y2="468" stroke="#000" stroke-width="1.5" stroke-linecap="butt"/>
<text x="273.58" y="484.6" font-size="12" font-family="'Liberation Sans', Arial, sans-serif" text-anchor="middle" fill="#111">32</text>
<line x1="33.9" y1="414.18" x2="33.9" y2="417.38" stroke="#f00" stroke-width="1.6" stroke-linecap="butt"/>
<line x1="31.6" y1="414.18" x2="36.2" y2="414.18" stroke="#f00" stroke-width="1.8" stroke-linecap="butt"/>
<line x1="31.6" y1="417.38" x2="36.2" y2="417.38" stroke="#f00" stroke-width="1.8" stroke-linecap="butt"/>
<line x1="48.88" y1="361.38" x2="48.88" y2="365.22" stroke="#f00" stroke-width="1.6" stroke-linecap="butt"/>
<line x1="46.58" y1="361.38" x2="51.18" y2="361.38" stroke="#f00" stroke-width="1.8" stroke-linecap="butt"/>
<line x1="46.58" y1="365.22" x2="51.18" y2="365.22" stroke="#f00" stroke-width="1.8" stroke-linecap="butt"/>
<line x1="63.86" y1="353.7" x2="63.86" y2="355.3" stroke="#f00" stroke-width="1.6" stroke-linecap="butt"/>
<line x1="61.56" y1="353.7" x2="66.16" y2="353.7" stroke="#f00" stroke-width="1.8" stroke-linecap="butt"/>
<line x1="61.56" y1="355.3" x2="66.16" y2="355.3" stroke="#f00" stroke-width="1.8" stroke-linecap="butt"/>
<line x1="78.84" y1="361.06" x2="78.84" y2="364.26" stroke="#f00" stroke-width="1.6" stroke-linecap="butt"/>
<line x1="76.54" y1="361.06" x2="81.14" y2="361.06" stroke="#f00" stroke-width="1.8" stroke-linecap="butt"/>
<line x1="76.54" y1="364.26" x2="81.14" y2="364.26" stroke="#f00" stroke-width="1.8" stroke-linecap="butt"/>
<line x1="93.82" y1="362.98" x2="93.82" y2="366.18" stroke="#f00" stroke-width="1.6" stroke-linecap="butt"/>
<line x1="91.52" y1="362.98" x2="96.12" y2="362.98" stroke="#f00" stroke-width="1.8" stroke-linecap="butt"/>
<line x1="91.52" y1="366.18" x2="96.12" y2="366.18" stroke="#f00" stroke-width="1.8" stroke-linecap="butt"/>
<line x1="108.8" y1="374.82" x2="108.8" y2="381.22" stroke="#f00" stroke-width="1.6" stroke-linecap="butt"/>
<line x1="106.5" y1="374.82" x2="111.1" y2="374.82" stroke="#f00" stroke-width="1.8" stroke-linecap="butt"/>
<line x1="106.5" y1="381.22" x2="111.1" y2="381.22" stroke="#f00" stroke-width="1.8" stroke-linecap="butt"/>
<line x1="123.78" y1="374.82" x2="123.78" y2="379.62" stroke="#f00" stroke-width="1.6" stroke-linecap="butt"/>
<line x1="121.48" y1="374.82" x2="126.08" y2="374.82" stroke="#f00" stroke-width="1.8" stroke-linecap="butt"/>
<line x1="121.48" y1="379.62" x2="126.08" y2="379.62" stroke="#f00" stroke-width="1.8" stroke-linecap="butt"/>
<line x1="138.76" y1="378.98" x2="138.76" y2="382.18" stroke="#f00" stroke-width="1.6" stroke-linecap="butt"/>
<line x1="136.46" y1="378.98" x2="141.06" y2="378.98" stroke="#f00" stroke-width="1.8" stroke-linecap="butt"/>
<line x1="136.46" y1="382.18" x2="141.06" y2="382.18" stroke="#f00" stroke-width="1.8" stroke-linecap="butt"/>
<line x1="153.74" y1="378.34" x2="153.74" y2="381.54" stroke="#f00" stroke-width="1.6" stroke-linecap="butt"/>
<line x1="151.44" y1="378.34" x2="156.04" y2="378.34" stroke="#f00" stroke-width="1.8" stroke-linecap="butt"/>
<line x1="151.44" y1="381.54" x2="156.04" y2="381.54" stroke="#f00" stroke-width="1.8" stroke-linecap="butt"/>
<line x1="176.21" y1="393.7" x2="176.21" y2="397.54" stroke="#f00" stroke-width="1.6" stroke-linecap="butt"/>
<line x1="173.91" y1="393.7" x2="178.51" y2="393.7" stroke="#f00" stroke-width="1.8" stroke-linecap="butt"/>
<line x1="173.91" y1="397.54" x2="178.51" y2="397.54" stroke="#f00" stroke-width="1.8" stroke-linecap="butt"/>
<line x1="213.66" y1="406.18" x2="213.66" y2="409.38" stroke="#f00" stroke-width="1.6" stroke-linecap="butt"/>
<line x1="211.36" y1="406.18" x2="215.96" y2="406.18" stroke="#f00" stroke-width="1.8" stroke-linecap="butt"/>
<line x1="211.36" y1="409.38" x2="215.96" y2="409.38" stroke="#f00" stroke-width="1.8" stroke-linecap="butt"/>
<line x1="243.62" y1="406.5" x2="243.62" y2="409.7" stroke="#f00" stroke-width="1.6" stroke-linecap="butt"/>
<line x1="241.32" y1="406.5" x2="245.92" y2="406.5" stroke="#f00" stroke-width="1.8" stroke-linecap="butt"/>
<line x1="241.32" y1="409.7" x2="245.92" y2="409.7" stroke="#f00" stroke-width="1.8" stroke-linecap="butt"/>
<line x1="266.09" y1="408.1" x2="266.09" y2="411.3" stroke="#f00" stroke-width="1.6" stroke-linecap="butt"/>
<line x1="263.79" y1="408.1" x2="268.39" y2="408.1" stroke="#f00" stroke-width="1.8" stroke-linecap="butt"/>
<line x1="263.79" y1="411.3" x2="268.39" y2="411.3" stroke="#f00" stroke-width="1.8" stroke-linecap="butt"/>
<polyline points="33.9,415.78 48.88,363.3 63.86,354.5 78.84,362.66 93.82,364.58 108.8,378.02 123.78,377.22 138.76,380.58 153.74,379.94 176.21,395.62 213.66,407.78 243.62,408.1 266.09,409.7" fill="none" stroke="#f00" stroke-width="1.9" stroke-linejoin="miter" stroke-dasharray="4.5,3"/>
<line x1="33.9" y1="414.02" x2="33.9" y2="417.54" stroke="#000" stroke-width="1.6" stroke-linecap="butt"/>
<line x1="31.6" y1="414.02" x2="36.2" y2="414.02" stroke="#000" stroke-width="1.8" stroke-linecap="butt"/>
<line x1="31.6" y1="417.54" x2="36.2" y2="417.54" stroke="#000" stroke-width="1.8" stroke-linecap="butt"/>
<line x1="48.88" y1="359.78" x2="48.88" y2="363.62" stroke="#000" stroke-width="1.6" stroke-linecap="butt"/>
<line x1="46.58" y1="359.78" x2="51.18" y2="359.78" stroke="#000" stroke-width="1.8" stroke-linecap="butt"/>
<line x1="46.58" y1="363.62" x2="51.18" y2="363.62" stroke="#000" stroke-width="1.8" stroke-linecap="butt"/>
<line x1="63.86" y1="353.38" x2="63.86" y2="355.62" stroke="#000" stroke-width="1.6" stroke-linecap="butt"/>
<line x1="61.56" y1="353.38" x2="66.16" y2="353.38" stroke="#000" stroke-width="1.8" stroke-linecap="butt"/>
<line x1="61.56" y1="355.62" x2="66.16" y2="355.62" stroke="#000" stroke-width="1.8" stroke-linecap="butt"/>
<line x1="78.84" y1="358.02" x2="78.84" y2="362.82" stroke="#000" stroke-width="1.6" stroke-linecap="butt"/>
<line x1="76.54" y1="358.02" x2="81.14" y2="358.02" stroke="#000" stroke-width="1.8" stroke-linecap="butt"/>
<line x1="76.54" y1="362.82" x2="81.14" y2="362.82" stroke="#000" stroke-width="1.8" stroke-linecap="butt"/>
<line x1="93.82" y1="362.34" x2="93.82" y2="366.18" stroke="#000" stroke-width="1.6" stroke-linecap="butt"/>
<line x1="91.52" y1="362.34" x2="96.12" y2="362.34" stroke="#000" stroke-width="1.8" stroke-linecap="butt"/>
<line x1="91.52" y1="366.18" x2="96.12" y2="366.18" stroke="#000" stroke-width="1.8" stroke-linecap="butt"/>
<line x1="108.8" y1="377.7" x2="108.8" y2="381.54" stroke="#000" stroke-width="1.6" stroke-linecap="butt"/>
<line x1="106.5" y1="377.7" x2="111.1" y2="377.7" stroke="#000" stroke-width="1.8" stroke-linecap="butt"/>
<line x1="106.5" y1="381.54" x2="111.1" y2="381.54" stroke="#000" stroke-width="1.8" stroke-linecap="butt"/>
<line x1="123.78" y1="372.1" x2="123.78" y2="384.9" stroke="#000" stroke-width="1.6" stroke-linecap="butt"/>
<line x1="121.48" y1="372.1" x2="126.08" y2="372.1" stroke="#000" stroke-width="1.8" stroke-linecap="butt"/>
<line x1="121.48" y1="384.9" x2="126.08" y2="384.9" stroke="#000" stroke-width="1.8" stroke-linecap="butt"/>
<line x1="138.76" y1="377.06" x2="138.76" y2="383.46" stroke="#000" stroke-width="1.6" stroke-linecap="butt"/>
<line x1="136.46" y1="377.06" x2="141.06" y2="377.06" stroke="#000" stroke-width="1.8" stroke-linecap="butt"/>
<line x1="136.46" y1="383.46" x2="141.06" y2="383.46" stroke="#000" stroke-width="1.8" stroke-linecap="butt"/>
<line x1="153.74" y1="376.1" x2="153.74" y2="383.78" stroke="#000" stroke-width="1.6" stroke-linecap="butt"/>
<line x1="151.44" y1="376.1" x2="156.04" y2="376.1" stroke="#000" stroke-width="1.8" stroke-linecap="butt"/>
<line x1="151.44" y1="383.78" x2="156.04" y2="383.78" stroke="#000" stroke-width="1.8" stroke-linecap="butt"/>
<line x1="176.21" y1="391.62" x2="176.21" y2="398.66" stroke="#000" stroke-width="1.6" stroke-linecap="butt"/>
<line x1="173.91" y1="391.62" x2="178.51" y2="391.62" stroke="#000" stroke-width="1.8" stroke-linecap="butt"/>
<line x1="173.91" y1="398.66" x2="178.51" y2="398.66" stroke="#000" stroke-width="1.8" stroke-linecap="butt"/>
<line x1="213.66" y1="404.9" x2="213.66" y2="409.7" stroke="#000" stroke-width="1.6" stroke-linecap="butt"/>
<line x1="211.36" y1="404.9" x2="215.96" y2="404.9" stroke="#000" stroke-width="1.8" stroke-linecap="butt"/>
<line x1="211.36" y1="409.7" x2="215.96" y2="409.7" stroke="#000" stroke-width="1.8" stroke-linecap="butt"/>
<line x1="243.62" y1="405.7" x2="243.62" y2="409.54" stroke="#000" stroke-width="1.6" stroke-linecap="butt"/>
<line x1="241.32" y1="405.7" x2="245.92" y2="405.7" stroke="#000" stroke-width="1.8" stroke-linecap="butt"/>
<line x1="241.32" y1="409.54" x2="245.92" y2="409.54" stroke="#000" stroke-width="1.8" stroke-linecap="butt"/>
<line x1="266.09" y1="405.7" x2="266.09" y2="410.5" stroke="#000" stroke-width="1.6" stroke-linecap="butt"/>
<line x1="263.79" y1="405.7" x2="268.39" y2="405.7" stroke="#000" stroke-width="1.8" stroke-linecap="butt"/>
<line x1="263.79" y1="410.5" x2="268.39" y2="410.5" stroke="#000" stroke-width="1.8" stroke-linecap="butt"/>
<polyline points="33.9,415.78 48.88,361.7 63.86,354.5 78.84,360.42 93.82,364.26 108.8,379.62 123.78,378.5 138.76,380.26 153.74,379.94 176.21,395.14 213.66,407.3 243.62,407.62 266.09,408.1" fill="none" stroke="#000" stroke-width="1.9" stroke-linejoin="miter"/>
<text x="11.7" y="390.25" font-size="12" font-family="'Liberation Serif', 'Times New Roman', serif" text-anchor="middle" fill="#111" transform="rotate(-90 11.7 390.25)">Lactic acid bacteria (log CFU/mL)</text>
<text x="154.3" y="502.9" font-size="12.3" font-family="'Liberation Serif', 'Times New Roman', serif" text-anchor="middle" fill="#111">Time/d</text>
<line x1="194.1" y1="311.7" x2="210.9" y2="311.7" stroke="#000" stroke-width="2" stroke-linecap="butt"/>
<line x1="194.1" y1="333.5" x2="210.9" y2="333.5" stroke="#f00" stroke-width="2" stroke-linecap="butt" stroke-dasharray="4,3"/>
<text x="221.3" y="315.7" font-size="12" font-family="'Liberation Serif', 'Times New Roman', serif" text-anchor="start" fill="#111">Control</text>
<text x="221.3" y="337.4" font-size="12" font-family="'Liberation Serif', 'Times New Roman', serif" text-anchor="start" fill="#111">6 mmol/L MHF</text>
<line x1="372.2" y1="309.6" x2="372.2" y2="471.4" stroke="#000" stroke-width="1.8" stroke-linecap="butt"/>
<line x1="371.3" y1="470.5" x2="612.14" y2="470.5" stroke="#000" stroke-width="1.8" stroke-linecap="butt"/>
<line x1="372.2" y1="470.5" x2="374.7" y2="470.5" stroke="#000" stroke-width="1.5" stroke-linecap="butt"/>
<text x="369.7" y="474.1" font-size="12" font-family="'Liberation Sans', Arial, sans-serif" text-anchor="end" fill="#111">0</text>
<line x1="372.2" y1="438.5" x2="374.7" y2="438.5" stroke="#000" stroke-width="1.5" stroke-linecap="butt"/>
<text x="369.7" y="442.1" font-size="12" font-family="'Liberation Sans', Arial, sans-serif" text-anchor="end" fill="#111">2</text>
<line x1="372.2" y1="406.5" x2="374.7" y2="406.5" stroke="#000" stroke-width="1.5" stroke-linecap="butt"/>
<text x="369.7" y="410.1" font-size="12" font-family="'Liberation Sans', Arial, sans-serif" text-anchor="end" fill="#111">4</text>
<line x1="372.2" y1="374.5" x2="374.7" y2="374.5" stroke="#000" stroke-width="1.5" stroke-linecap="butt"/>
<text x="369.7" y="378.1" font-size="12" font-family="'Liberation Sans', Arial, sans-serif" text-anchor="end" fill="#111">6</text>
<line x1="372.2" y1="342.5" x2="374.7" y2="342.5" stroke="#000" stroke-width="1.5" stroke-linecap="butt"/>
<text x="369.7" y="346.1" font-size="12" font-family="'Liberation Sans', Arial, sans-serif" text-anchor="end" fill="#111">8</text>
<line x1="372.2" y1="310.5" x2="374.7" y2="310.5" stroke="#000" stroke-width="1.5" stroke-linecap="butt"/>
<text x="369.7" y="314.1" font-size="12" font-family="'Liberation Sans', Arial, sans-serif" text-anchor="end" fill="#111">10</text>
<text x="372.2" y="484.6" font-size="12" font-family="'Liberation Sans', Arial, sans-serif" text-anchor="middle" fill="#111">0</text>
<line x1="402.08" y1="470.5" x2="402.08" y2="468" stroke="#000" stroke-width="1.5" stroke-linecap="butt"/>
<text x="402.08" y="484.6" font-size="12" font-family="'Liberation Sans', Arial, sans-serif" text-anchor="middle" fill="#111">4</text>
<line x1="431.96" y1="470.5" x2="431.96" y2="468" stroke="#000" stroke-width="1.5" stroke-linecap="butt"/>
<text x="431.96" y="484.6" font-size="12" font-family="'Liberation Sans', Arial, sans-serif" text-anchor="middle" fill="#111">8</text>
<line x1="461.84" y1="470.5" x2="461.84" y2="468" stroke="#000" stroke-width="1.5" stroke-linecap="butt"/>
<text x="461.84" y="484.6" font-size="12" font-family="'Liberation Sans', Arial, sans-serif" text-anchor="middle" fill="#111">12</text>
<line x1="491.72" y1="470.5" x2="491.72" y2="468" stroke="#000" stroke-width="1.5" stroke-linecap="butt"/>
<text x="491.72" y="484.6" font-size="12" font-family="'Liberation Sans', Arial, sans-serif" text-anchor="middle" fill="#111">16</text>
<line x1="521.6" y1="470.5" x2="521.6" y2="468" stroke="#000" stroke-width="1.5" stroke-linecap="butt"/>
<text x="521.6" y="484.6" font-size="12" font-family="'Liberation Sans', Arial, sans-serif" text-anchor="middle" fill="#111">20</text>
<line x1="551.48" y1="470.5" x2="551.48" y2="468" stroke="#000" stroke-width="1.5" stroke-linecap="butt"/>
<text x="551.48" y="484.6" font-size="12" font-family="'Liberation Sans', Arial, sans-serif" text-anchor="middle" fill="#111">24</text>
<line x1="581.36" y1="470.5" x2="581.36" y2="468" stroke="#000" stroke-width="1.5" stroke-linecap="butt"/>
<text x="581.36" y="484.6" font-size="12" font-family="'Liberation Sans', Arial, sans-serif" text-anchor="middle" fill="#111">28</text>
<line x1="611.24" y1="470.5" x2="611.24" y2="468" stroke="#000" stroke-width="1.5" stroke-linecap="butt"/>
<text x="611.24" y="484.6" font-size="12" font-family="'Liberation Sans', Arial, sans-serif" text-anchor="middle" fill="#111">32</text>
<line x1="372.2" y1="435.14" x2="372.2" y2="437.06" stroke="#f00" stroke-width="1.6" stroke-linecap="butt"/>
<line x1="369.9" y1="435.14" x2="374.5" y2="435.14" stroke="#f00" stroke-width="1.8" stroke-linecap="butt"/>
<line x1="369.9" y1="437.06" x2="374.5" y2="437.06" stroke="#f00" stroke-width="1.8" stroke-linecap="butt"/>
<line x1="387.14" y1="398.66" x2="387.14" y2="403.46" stroke="#f00" stroke-width="1.6" stroke-linecap="butt"/>
<line x1="384.84" y1="398.66" x2="389.44" y2="398.66" stroke="#f00" stroke-width="1.8" stroke-linecap="butt"/>
<line x1="384.84" y1="403.46" x2="389.44" y2="403.46" stroke="#f00" stroke-width="1.8" stroke-linecap="butt"/>
<line x1="402.08" y1="385.22" x2="402.08" y2="388.74" stroke="#f00" stroke-width="1.6" stroke-linecap="butt"/>
<line x1="399.78" y1="385.22" x2="404.38" y2="385.22" stroke="#f00" stroke-width="1.8" stroke-linecap="butt"/>
<line x1="399.78" y1="388.74" x2="404.38" y2="388.74" stroke="#f00" stroke-width="1.8" stroke-linecap="butt"/>
<line x1="417.02" y1="367.3" x2="417.02" y2="373.7" stroke="#f00" stroke-width="1.6" stroke-linecap="butt"/>
<line x1="414.72" y1="367.3" x2="419.32" y2="367.3" stroke="#f00" stroke-width="1.8" stroke-linecap="butt"/>
<line x1="414.72" y1="373.7" x2="419.32" y2="373.7" stroke="#f00" stroke-width="1.8" stroke-linecap="butt"/>
<line x1="431.96" y1="348.1" x2="431.96" y2="365.7" stroke="#f00" stroke-width="1.6" stroke-linecap="butt"/>
<line x1="429.66" y1="348.1" x2="434.26" y2="348.1" stroke="#f00" stroke-width="1.8" stroke-linecap="butt"/>
<line x1="429.66" y1="365.7" x2="434.26" y2="365.7" stroke="#f00" stroke-width="1.8" stroke-linecap="butt"/>
<line x1="446.9" y1="360.1" x2="446.9" y2="363.3" stroke="#f00" stroke-width="1.6" stroke-linecap="butt"/>
<line x1="444.6" y1="360.1" x2="449.2" y2="360.1" stroke="#f00" stroke-width="1.8" stroke-linecap="butt"/>
<line x1="444.6" y1="363.3" x2="449.2" y2="363.3" stroke="#f00" stroke-width="1.8" stroke-linecap="butt"/>
<line x1="461.84" y1="374.18" x2="461.84" y2="378.02" stroke="#f00" stroke-width="1.6" stroke-linecap="butt"/>
<line x1="459.54" y1="374.18" x2="464.14" y2="374.18" stroke="#f00" stroke-width="1.8" stroke-linecap="butt"/>
<line x1="459.54" y1="378.02" x2="464.14" y2="378.02" stroke="#f00" stroke-width="1.8" stroke-linecap="butt"/>
<line x1="476.78" y1="372.9" x2="476.78" y2="377.7" stroke="#f00" stroke-width="1.6" stroke-linecap="butt"/>
<line x1="474.48" y1="372.9" x2="479.08" y2="372.9" stroke="#f00" stroke-width="1.8" stroke-linecap="butt"/>
<line x1="474.48" y1="377.7" x2="479.08" y2="377.7" stroke="#f00" stroke-width="1.8" stroke-linecap="butt"/>
<line x1="491.72" y1="372.1" x2="491.72" y2="376.9" stroke="#f00" stroke-width="1.6" stroke-linecap="butt"/>
<line x1="489.42" y1="372.1" x2="494.02" y2="372.1" stroke="#f00" stroke-width="1.8" stroke-linecap="butt"/>
<line x1="489.42" y1="376.9" x2="494.02" y2="376.9" stroke="#f00" stroke-width="1.8" stroke-linecap="butt"/>
<line x1="514.13" y1="388.9" x2="514.13" y2="393.7" stroke="#f00" stroke-width="1.6" stroke-linecap="butt"/>
<line x1="511.83" y1="388.9" x2="516.43" y2="388.9" stroke="#f00" stroke-width="1.8" stroke-linecap="butt"/>
<line x1="511.83" y1="393.7" x2="516.43" y2="393.7" stroke="#f00" stroke-width="1.8" stroke-linecap="butt"/>
<line x1="551.48" y1="403.62" x2="551.48" y2="410.02" stroke="#f00" stroke-width="1.6" stroke-linecap="butt"/>
<line x1="549.18" y1="403.62" x2="553.78" y2="403.62" stroke="#f00" stroke-width="1.8" stroke-linecap="butt"/>
<line x1="549.18" y1="410.02" x2="553.78" y2="410.02" stroke="#f00" stroke-width="1.8" stroke-linecap="butt"/>
<line x1="581.36" y1="403.78" x2="581.36" y2="407.62" stroke="#f00" stroke-width="1.6" stroke-linecap="butt"/>
<line x1="579.06" y1="403.78" x2="583.66" y2="403.78" stroke="#f00" stroke-width="1.8" stroke-linecap="butt"/>
<line x1="579.06" y1="407.62" x2="583.66" y2="407.62" stroke="#f00" stroke-width="1.8" stroke-linecap="butt"/>
<line x1="603.77" y1="404.9" x2="603.77" y2="408.1" stroke="#f00" stroke-width="1.6" stroke-linecap="butt"/>
<line x1="601.47" y1="404.9" x2="606.07" y2="404.9" stroke="#f00" stroke-width="1.8" stroke-linecap="butt"/>
<line x1="601.47" y1="408.1" x2="606.07" y2="408.1" stroke="#f00" stroke-width="1.8" stroke-linecap="butt"/>
<polyline points="372.2,436.1 387.14,401.06 402.08,386.98 417.02,370.5 431.96,356.9 446.9,361.7 461.84,376.1 476.78,375.3 491.72,374.5 514.13,391.3 551.48,406.82 581.36,405.7 603.77,406.5" fill="none" stroke="#f00" stroke-width="1.9" stroke-linejoin="miter" stroke-dasharray="4.5,3"/>
<line x1="372.2" y1="435.14" x2="372.2" y2="437.06" stroke="#000" stroke-width="1.6" stroke-linecap="butt"/>
<line x1="369.9" y1="435.14" x2="374.5" y2="435.14" stroke="#000" stroke-width="1.8" stroke-linecap="butt"/>
<line x1="369.9" y1="437.06" x2="374.5" y2="437.06" stroke="#000" stroke-width="1.8" stroke-linecap="butt"/>
<line x1="387.14" y1="378.82" x2="387.14" y2="382.02" stroke="#000" stroke-width="1.6" stroke-linecap="butt"/>
<line x1="384.84" y1="378.82" x2="389.44" y2="378.82" stroke="#000" stroke-width="1.8" stroke-linecap="butt"/>
<line x1="384.84" y1="382.02" x2="389.44" y2="382.02" stroke="#000" stroke-width="1.8" stroke-linecap="butt"/>
<line x1="402.08" y1="368.9" x2="402.08" y2="372.1" stroke="#000" stroke-width="1.6" stroke-linecap="butt"/>
<line x1="399.78" y1="368.9" x2="404.38" y2="368.9" stroke="#000" stroke-width="1.8" stroke-linecap="butt"/>
<line x1="399.78" y1="372.1" x2="404.38" y2="372.1" stroke="#000" stroke-width="1.8" stroke-linecap="butt"/>
<line x1="417.02" y1="355.78" x2="417.02" y2="364.74" stroke="#000" stroke-width="1.6" stroke-linecap="butt"/>
<line x1="414.72" y1="355.78" x2="419.32" y2="355.78" stroke="#000" stroke-width="1.8" stroke-linecap="butt"/>
<line x1="414.72" y1="364.74" x2="419.32" y2="364.74" stroke="#000" stroke-width="1.8" stroke-linecap="butt"/>
<line x1="431.96" y1="351.78" x2="431.96" y2="358.82" stroke="#000" stroke-width="1.6" stroke-linecap="butt"/>
<line x1="429.66" y1="351.78" x2="434.26" y2="351.78" stroke="#000" stroke-width="1.8" stroke-linecap="butt"/>
<line x1="429.66" y1="358.82" x2="434.26" y2="358.82" stroke="#000" stroke-width="1.8" stroke-linecap="butt"/>
<line x1="446.9" y1="357.86" x2="446.9" y2="362.66" stroke="#000" stroke-width="1.6" stroke-linecap="butt"/>
<line x1="444.6" y1="357.86" x2="449.2" y2="357.86" stroke="#000" stroke-width="1.8" stroke-linecap="butt"/>
<line x1="444.6" y1="362.66" x2="449.2" y2="362.66" stroke="#000" stroke-width="1.8" stroke-linecap="butt"/>
<line x1="461.84" y1="372.9" x2="461.84" y2="376.1" stroke="#000" stroke-width="1.6" stroke-linecap="butt"/>
<line x1="459.54" y1="372.9" x2="464.14" y2="372.9" stroke="#000" stroke-width="1.8" stroke-linecap="butt"/>
<line x1="459.54" y1="376.1" x2="464.14" y2="376.1" stroke="#000" stroke-width="1.8" stroke-linecap="butt"/>
<line x1="476.78" y1="372.1" x2="476.78" y2="380.1" stroke="#000" stroke-width="1.6" stroke-linecap="butt"/>
<line x1="474.48" y1="372.1" x2="479.08" y2="372.1" stroke="#000" stroke-width="1.8" stroke-linecap="butt"/>
<line x1="474.48" y1="380.1" x2="479.08" y2="380.1" stroke="#000" stroke-width="1.8" stroke-linecap="butt"/>
<line x1="491.72" y1="375.3" x2="491.72" y2="380.1" stroke="#000" stroke-width="1.6" stroke-linecap="butt"/>
<line x1="489.42" y1="375.3" x2="494.02" y2="375.3" stroke="#000" stroke-width="1.8" stroke-linecap="butt"/>
<line x1="489.42" y1="380.1" x2="494.02" y2="380.1" stroke="#000" stroke-width="1.8" stroke-linecap="butt"/>
<line x1="514.13" y1="392.74" x2="514.13" y2="399.78" stroke="#000" stroke-width="1.6" stroke-linecap="butt"/>
<line x1="511.83" y1="392.74" x2="516.43" y2="392.74" stroke="#000" stroke-width="1.8" stroke-linecap="butt"/>
<line x1="511.83" y1="399.78" x2="516.43" y2="399.78" stroke="#000" stroke-width="1.8" stroke-linecap="butt"/>
<line x1="551.48" y1="405.06" x2="551.48" y2="408.9" stroke="#000" stroke-width="1.6" stroke-linecap="butt"/>
<line x1="549.18" y1="405.06" x2="553.78" y2="405.06" stroke="#000" stroke-width="1.8" stroke-linecap="butt"/>
<line x1="549.18" y1="408.9" x2="553.78" y2="408.9" stroke="#000" stroke-width="1.8" stroke-linecap="butt"/>
<line x1="581.36" y1="405.7" x2="581.36" y2="408.9" stroke="#000" stroke-width="1.6" stroke-linecap="butt"/>
<line x1="579.06" y1="405.7" x2="583.66" y2="405.7" stroke="#000" stroke-width="1.8" stroke-linecap="butt"/>
<line x1="579.06" y1="408.9" x2="583.66" y2="408.9" stroke="#000" stroke-width="1.8" stroke-linecap="butt"/>
<line x1="603.77" y1="405.7" x2="603.77" y2="409.54" stroke="#000" stroke-width="1.6" stroke-linecap="butt"/>
<line x1="601.47" y1="405.7" x2="606.07" y2="405.7" stroke="#000" stroke-width="1.8" stroke-linecap="butt"/>
<line x1="601.47" y1="409.54" x2="606.07" y2="409.54" stroke="#000" stroke-width="1.8" stroke-linecap="butt"/>
<polyline points="372.2,436.1 387.14,380.42 402.08,370.5 417.02,360.26 431.96,355.3 446.9,360.26 461.84,374.5 476.78,376.1 491.72,377.7 514.13,396.26 551.48,406.98 581.36,407.3 603.77,407.62" fill="none" stroke="#000" stroke-width="1.9" stroke-linejoin="miter"/>
<text x="349.9" y="390.35" font-size="12" font-family="'Liberation Serif', 'Times New Roman', serif" text-anchor="middle" fill="#111" transform="rotate(-90 349.9 390.35)">Fungi (log CFU/mL)</text>
<text x="491.8" y="502.9" font-size="12.3" font-family="'Liberation Serif', 'Times New Roman', serif" text-anchor="middle" fill="#111">Time/d</text>
<line x1="532.6" y1="310" x2="549" y2="310" stroke="#000" stroke-width="2" stroke-linecap="butt"/>
<line x1="532.6" y1="331.3" x2="549" y2="331.3" stroke="#f00" stroke-width="2" stroke-linecap="butt" stroke-dasharray="4,3"/>
<text x="559.1" y="314.3" font-size="12" font-family="'Liberation Serif', 'Times New Roman', serif" text-anchor="start" fill="#111">Control</text>
<text x="559.1" y="335.6" font-size="12" font-family="'Liberation Serif', 'Times New Roman', serif" text-anchor="start" fill="#111">6 mmol/L MHF</text>
<text x="385.25" y="374.5" font-size="8" font-family="'Liberation Sans', Arial, sans-serif" font-weight="bold" letter-spacing="1.1" text-anchor="middle" fill="#111" style="stroke-width:0.45px">****</text>
<text x="402.65" y="363.6" font-size="8" font-family="'Liberation Sans', Arial, sans-serif" font-weight="bold" letter-spacing="1.1" text-anchor="middle" fill="#111" style="stroke-width:0.45px">****</text>
<text x="417.4" y="353.7" font-size="8" font-family="'Liberation Sans', Arial, sans-serif" font-weight="bold" letter-spacing="1.1" text-anchor="middle" fill="#111" style="stroke-width:0.45px">**</text>
<line x1="35.9" y1="609.6" x2="35.9" y2="771.4" stroke="#000" stroke-width="1.8" stroke-linecap="butt"/>
<line x1="35.9" y1="770.5" x2="38.4" y2="770.5" stroke="#000" stroke-width="1.5" stroke-linecap="butt"/>
<text x="33.4" y="774.1" font-size="12" font-family="'Liberation Sans', Arial, sans-serif" text-anchor="end" fill="#111">0</text>
<line x1="35.9" y1="738.5" x2="38.4" y2="738.5" stroke="#000" stroke-width="1.5" stroke-linecap="butt"/>
<text x="33.4" y="742.1" font-size="12" font-family="'Liberation Sans', Arial, sans-serif" text-anchor="end" fill="#111">2</text>
<line x1="35.9" y1="706.5" x2="38.4" y2="706.5" stroke="#000" stroke-width="1.5" stroke-linecap="butt"/>
<text x="33.4" y="710.1" font-size="12" font-family="'Liberation Sans', Arial, sans-serif" text-anchor="end" fill="#111">4</text>
<line x1="35.9" y1="674.5" x2="38.4" y2="674.5" stroke="#000" stroke-width="1.5" stroke-linecap="butt"/>
<text x="33.4" y="678.1" font-size="12" font-family="'Liberation Sans', Arial, sans-serif" text-anchor="end" fill="#111">6</text>
<line x1="35.9" y1="642.5" x2="38.4" y2="642.5" stroke="#000" stroke-width="1.5" stroke-linecap="butt"/>
<text x="33.4" y="646.1" font-size="12" font-family="'Liberation Sans', Arial, sans-serif" text-anchor="end" fill="#111">8</text>
<line x1="35.9" y1="610.5" x2="38.4" y2="610.5" stroke="#000" stroke-width="1.5" stroke-linecap="butt"/>
<text x="33.4" y="614.1" font-size="12" font-family="'Liberation Sans', Arial, sans-serif" text-anchor="end" fill="#111">10</text>
<line x1="35" y1="770.5" x2="151" y2="770.5" stroke="#000" stroke-width="1.8" stroke-linecap="butt"/>
<line x1="58.6" y1="770.5" x2="58.6" y2="768" stroke="#000" stroke-width="1.5" stroke-linecap="butt"/>
<line x1="81.3" y1="770.5" x2="81.3" y2="768" stroke="#000" stroke-width="1.5" stroke-linecap="butt"/>
<line x1="104" y1="770.5" x2="104" y2="768" stroke="#000" stroke-width="1.5" stroke-linecap="butt"/>
<line x1="126.7" y1="770.5" x2="126.7" y2="768" stroke="#000" stroke-width="1.5" stroke-linecap="butt"/>
<text x="35.9" y="785.5" font-size="12" font-family="'Liberation Sans', Arial, sans-serif" text-anchor="middle" fill="#111">0</text>
<text x="81.3" y="785.5" font-size="12" font-family="'Liberation Sans', Arial, sans-serif" text-anchor="middle" fill="#111">2</text>
<text x="126.7" y="785.5" font-size="12" font-family="'Liberation Sans', Arial, sans-serif" text-anchor="middle" fill="#111">4</text>
<line x1="146.2" y1="774.6" x2="153.8" y2="767.4" stroke="#000" stroke-width="1.6" stroke-linecap="butt"/>
<line x1="156.9" y1="774.6" x2="163.1" y2="767.4" stroke="#000" stroke-width="1.6" stroke-linecap="butt"/>
<line x1="160.8" y1="770.5" x2="276.94" y2="770.5" stroke="#000" stroke-width="1.8" stroke-linecap="butt"/>
<line x1="164.2" y1="770.5" x2="164.2" y2="768" stroke="#000" stroke-width="1.3" stroke-linecap="butt"/>
<line x1="178.18" y1="770.5" x2="178.18" y2="768.7" stroke="#000" stroke-width="1.3" stroke-linecap="butt"/>
<line x1="192.16" y1="770.5" x2="192.16" y2="768" stroke="#000" stroke-width="1.3" stroke-linecap="butt"/>
<line x1="206.14" y1="770.5" x2="206.14" y2="768.7" stroke="#000" stroke-width="1.3" stroke-linecap="butt"/>
<line x1="220.12" y1="770.5" x2="220.12" y2="768" stroke="#000" stroke-width="1.3" stroke-linecap="butt"/>
<line x1="234.1" y1="770.5" x2="234.1" y2="768.7" stroke="#000" stroke-width="1.3" stroke-linecap="butt"/>
<line x1="248.08" y1="770.5" x2="248.08" y2="768" stroke="#000" stroke-width="1.3" stroke-linecap="butt"/>
<line x1="262.06" y1="770.5" x2="262.06" y2="768.7" stroke="#000" stroke-width="1.3" stroke-linecap="butt"/>
<line x1="276.04" y1="770.5" x2="276.04" y2="768" stroke="#000" stroke-width="1.3" stroke-linecap="butt"/>
<text x="164.2" y="785.8" font-size="12" font-family="'Liberation Serif', 'Times New Roman', serif" text-anchor="middle" fill="#111">16</text>
<text x="192.16" y="785.8" font-size="12" font-family="'Liberation Serif', 'Times New Roman', serif" text-anchor="middle" fill="#111">20</text>
<text x="220.12" y="785.8" font-size="12" font-family="'Liberation Serif', 'Times New Roman', serif" text-anchor="middle" fill="#111">24</text>
<text x="248.08" y="785.8" font-size="12" font-family="'Liberation Serif', 'Times New Roman', serif" text-anchor="middle" fill="#111">28</text>
<text x="276.04" y="785.8" font-size="12" font-family="'Liberation Serif', 'Times New Roman', serif" text-anchor="middle" fill="#111">32</text>
<line x1="58.6" y1="764.1" x2="58.6" y2="765.7" stroke="#f00" stroke-width="1.6" stroke-linecap="butt"/>
<line x1="56.3" y1="764.1" x2="60.9" y2="764.1" stroke="#f00" stroke-width="1.8" stroke-linecap="butt"/>
<line x1="56.3" y1="765.7" x2="60.9" y2="765.7" stroke="#f00" stroke-width="1.8" stroke-linecap="butt"/>
<line x1="81.3" y1="730.02" x2="81.3" y2="738.02" stroke="#f00" stroke-width="1.6" stroke-linecap="butt"/>
<line x1="79" y1="730.02" x2="83.6" y2="730.02" stroke="#f00" stroke-width="1.8" stroke-linecap="butt"/>
<line x1="79" y1="738.02" x2="83.6" y2="738.02" stroke="#f00" stroke-width="1.8" stroke-linecap="butt"/>
<polyline points="35.9,765.7 58.6,764.9 81.3,734.02 104,764.9 126.7,764.9 149.4,764.9" fill="none" stroke="#f00" stroke-width="1.9" stroke-linejoin="miter" stroke-dasharray="4.5,3"/>
<rect x="34" y="763.8" width="3.8" height="3.8" fill="#f00"/>
<rect x="56.7" y="763" width="3.8" height="3.8" fill="#f00"/>
<rect x="79.4" y="732.12" width="3.8" height="3.8" fill="#f00"/>
<rect x="102.1" y="763" width="3.8" height="3.8" fill="#f00"/>
<rect x="124.8" y="763" width="3.8" height="3.8" fill="#f00"/>
<rect x="147.5" y="763" width="3.8" height="3.8" fill="#f00"/>
<line x1="58.6" y1="759.78" x2="58.6" y2="761.38" stroke="#000" stroke-width="1.6" stroke-linecap="butt"/>
<line x1="56.3" y1="759.78" x2="60.9" y2="759.78" stroke="#000" stroke-width="1.8" stroke-linecap="butt"/>
<line x1="56.3" y1="761.38" x2="60.9" y2="761.38" stroke="#000" stroke-width="1.8" stroke-linecap="butt"/>
<line x1="81.3" y1="626.82" x2="81.3" y2="642.18" stroke="#000" stroke-width="1.6" stroke-linecap="butt"/>
<line x1="79" y1="626.82" x2="83.6" y2="626.82" stroke="#000" stroke-width="1.8" stroke-linecap="butt"/>
<line x1="79" y1="642.18" x2="83.6" y2="642.18" stroke="#000" stroke-width="1.8" stroke-linecap="butt"/>
<polyline points="35.9,763.78 58.6,760.58 81.3,634.5 104,763.78 126.7,764.58 149.4,764.9" fill="none" stroke="#000" stroke-width="1.9" stroke-linejoin="miter"/>
<circle cx="35.9" cy="763.78" r="2.2" fill="#000"/>
<circle cx="58.6" cy="760.58" r="2.2" fill="#000"/>
<circle cx="81.3" cy="634.5" r="2.2" fill="#000"/>
<circle cx="104" cy="763.78" r="2.2" fill="#000"/>
<circle cx="126.7" cy="764.58" r="2.2" fill="#000"/>
<circle cx="149.4" cy="764.9" r="2.2" fill="#000"/>
<polyline points="164.2,763.14 185.17,764.42 220.12,765.22 248.08,763.94 269.05,763.14" fill="none" stroke="#f00" stroke-width="1.9" stroke-linejoin="miter" stroke-dasharray="4.5,3"/>
<rect x="162.3" y="761.24" width="3.8" height="3.8" fill="#f00"/>
<rect x="183.27" y="762.52" width="3.8" height="3.8" fill="#f00"/>
<rect x="218.22" y="763.32" width="3.8" height="3.8" fill="#f00"/>
<rect x="246.18" y="762.04" width="3.8" height="3.8" fill="#f00"/>
<rect x="267.15" y="761.24" width="3.8" height="3.8" fill="#f00"/>
<polyline points="164.2,764.74 185.17,764.42 220.12,765.22 248.08,764.1 269.05,764.42" fill="none" stroke="#000" stroke-width="1.9" stroke-linejoin="miter"/>
<circle cx="164.2" cy="764.74" r="1.9" fill="#000"/>
<circle cx="185.17" cy="764.42" r="1.9" fill="#000"/>
<circle cx="220.12" cy="765.22" r="1.9" fill="#000"/>
<circle cx="248.08" cy="764.1" r="1.9" fill="#000"/>
<circle cx="269.05" cy="764.42" r="1.9" fill="#000"/>
<text x="11.7" y="690.35" font-size="12" font-family="'Liberation Serif', 'Times New Roman', serif" text-anchor="middle" fill="#111" transform="rotate(-90 11.7 690.35)">Nitritr contents (mg/kg)</text>
<text x="156" y="801" font-size="12.3" font-family="'Liberation Serif', 'Times New Roman', serif" text-anchor="middle" fill="#111">Time/d</text>
<line x1="191.3" y1="610.7" x2="208.3" y2="610.7" stroke="#000" stroke-width="2" stroke-linecap="butt"/>
<line x1="191.3" y1="632.4" x2="208.3" y2="632.4" stroke="#f00" stroke-width="2" stroke-linecap="butt" stroke-dasharray="4,3"/>
<path d="M197.6,630.4 L200.6,630.4 L203.4,632.4 L200.6,634.4 L197.6,634.4 Z" fill="#f00"/>
<text x="218.7" y="614.6" font-size="12" font-family="'Liberation Serif', 'Times New Roman', serif" text-anchor="start" fill="#111">Control</text>
<text x="218.7" y="636.3" font-size="12" font-family="'Liberation Serif', 'Times New Roman', serif" text-anchor="start" fill="#111">6 mmol/L MHF</text>
<text x="81.7" y="622.35" font-size="8" font-family="'Liberation Sans', Arial, sans-serif" font-weight="bold" letter-spacing="1.1" text-anchor="middle" fill="#111" style="stroke-width:0.45px">****</text>
<line x1="378.2" y1="608.65" x2="378.2" y2="767.2" stroke="#000" stroke-width="1.8" stroke-linecap="butt"/>
<line x1="377.3" y1="766.3" x2="614.3" y2="766.3" stroke="#000" stroke-width="1.8" stroke-linecap="butt"/>
<line x1="378.2" y1="766.3" x2="380.7" y2="766.3" stroke="#000" stroke-width="1.5" stroke-linecap="butt"/>
<text x="375.7" y="770.8" font-size="12" font-family="'Liberation Sans', Arial, sans-serif" text-anchor="end" fill="#111">0</text>
<line x1="378.2" y1="734.95" x2="380.7" y2="734.95" stroke="#000" stroke-width="1.5" stroke-linecap="butt"/>
<text x="375.7" y="739.45" font-size="12" font-family="'Liberation Sans', Arial, sans-serif" text-anchor="end" fill="#111">50</text>
<line x1="378.2" y1="703.6" x2="380.7" y2="703.6" stroke="#000" stroke-width="1.5" stroke-linecap="butt"/>
<text x="375.7" y="708.1" font-size="12" font-family="'Liberation Sans', Arial, sans-serif" text-anchor="end" fill="#111">100</text>
<line x1="378.2" y1="672.25" x2="380.7" y2="672.25" stroke="#000" stroke-width="1.5" stroke-linecap="butt"/>
<text x="375.7" y="676.75" font-size="12" font-family="'Liberation Sans', Arial, sans-serif" text-anchor="end" fill="#111">150</text>
<line x1="378.2" y1="640.9" x2="380.7" y2="640.9" stroke="#000" stroke-width="1.5" stroke-linecap="butt"/>
<text x="375.7" y="645.4" font-size="12" font-family="'Liberation Sans', Arial, sans-serif" text-anchor="end" fill="#111">200</text>
<line x1="378.2" y1="609.55" x2="380.7" y2="609.55" stroke="#000" stroke-width="1.5" stroke-linecap="butt"/>
<text x="375.7" y="614.05" font-size="12" font-family="'Liberation Sans', Arial, sans-serif" text-anchor="end" fill="#111">250</text>
<text x="378.2" y="780.4" font-size="12" font-family="'Liberation Sans', Arial, sans-serif" text-anchor="middle" fill="#111">0</text>
<line x1="407.6" y1="766.3" x2="407.6" y2="763.8" stroke="#000" stroke-width="1.5" stroke-linecap="butt"/>
<text x="407.6" y="780.4" font-size="12" font-family="'Liberation Sans', Arial, sans-serif" text-anchor="middle" fill="#111">4</text>
<line x1="437" y1="766.3" x2="437" y2="763.8" stroke="#000" stroke-width="1.5" stroke-linecap="butt"/>
<text x="437" y="780.4" font-size="12" font-family="'Liberation Sans', Arial, sans-serif" text-anchor="middle" fill="#111">8</text>
<line x1="466.4" y1="766.3" x2="466.4" y2="763.8" stroke="#000" stroke-width="1.5" stroke-linecap="butt"/>
<text x="466.4" y="780.4" font-size="12" font-family="'Liberation Sans', Arial, sans-serif" text-anchor="middle" fill="#111">12</text>
<line x1="495.8" y1="766.3" x2="495.8" y2="763.8" stroke="#000" stroke-width="1.5" stroke-linecap="butt"/>
<text x="495.8" y="780.4" font-size="12" font-family="'Liberation Sans', Arial, sans-serif" text-anchor="middle" fill="#111">16</text>
<line x1="525.2" y1="766.3" x2="525.2" y2="763.8" stroke="#000" stroke-width="1.5" stroke-linecap="butt"/>
<text x="525.2" y="780.4" font-size="12" font-family="'Liberation Sans', Arial, sans-serif" text-anchor="middle" fill="#111">20</text>
<line x1="554.6" y1="766.3" x2="554.6" y2="763.8" stroke="#000" stroke-width="1.5" stroke-linecap="butt"/>
<text x="554.6" y="780.4" font-size="12" font-family="'Liberation Sans', Arial, sans-serif" text-anchor="middle" fill="#111">24</text>
<line x1="584" y1="766.3" x2="584" y2="763.8" stroke="#000" stroke-width="1.5" stroke-linecap="butt"/>
<text x="584" y="780.4" font-size="12" font-family="'Liberation Sans', Arial, sans-serif" text-anchor="middle" fill="#111">28</text>
<line x1="613.4" y1="766.3" x2="613.4" y2="763.8" stroke="#000" stroke-width="1.5" stroke-linecap="butt"/>
<text x="613.4" y="780.4" font-size="12" font-family="'Liberation Sans', Arial, sans-serif" text-anchor="middle" fill="#111">32</text>
<line x1="392.9" y1="635.26" x2="392.9" y2="656.57" stroke="#f00" stroke-width="1.0" stroke-linecap="butt"/>
<line x1="391.1" y1="635.26" x2="394.7" y2="635.26" stroke="#f00" stroke-width="1.1" stroke-linecap="butt"/>
<line x1="391.1" y1="656.57" x2="394.7" y2="656.57" stroke="#f00" stroke-width="1.1" stroke-linecap="butt"/>
<line x1="407.6" y1="669.12" x2="407.6" y2="699.21" stroke="#f00" stroke-width="1.0" stroke-linecap="butt"/>
<line x1="405.8" y1="669.12" x2="409.4" y2="669.12" stroke="#f00" stroke-width="1.1" stroke-linecap="butt"/>
<line x1="405.8" y1="699.21" x2="409.4" y2="699.21" stroke="#f00" stroke-width="1.1" stroke-linecap="butt"/>
<line x1="422.3" y1="731.19" x2="422.3" y2="741.22" stroke="#f00" stroke-width="1.0" stroke-linecap="butt"/>
<line x1="420.5" y1="731.19" x2="424.1" y2="731.19" stroke="#f00" stroke-width="1.1" stroke-linecap="butt"/>
<line x1="420.5" y1="741.22" x2="424.1" y2="741.22" stroke="#f00" stroke-width="1.1" stroke-linecap="butt"/>
<line x1="437" y1="750" x2="437" y2="756.27" stroke="#f00" stroke-width="1.0" stroke-linecap="butt"/>
<line x1="435.2" y1="750" x2="438.8" y2="750" stroke="#f00" stroke-width="1.1" stroke-linecap="butt"/>
<line x1="435.2" y1="756.27" x2="438.8" y2="756.27" stroke="#f00" stroke-width="1.1" stroke-linecap="butt"/>
<line x1="451.7" y1="750.62" x2="451.7" y2="756.89" stroke="#f00" stroke-width="1.0" stroke-linecap="butt"/>
<line x1="449.9" y1="750.62" x2="453.5" y2="750.62" stroke="#f00" stroke-width="1.1" stroke-linecap="butt"/>
<line x1="449.9" y1="756.89" x2="453.5" y2="756.89" stroke="#f00" stroke-width="1.1" stroke-linecap="butt"/>
<line x1="466.4" y1="750" x2="466.4" y2="755.01" stroke="#f00" stroke-width="1.0" stroke-linecap="butt"/>
<line x1="464.6" y1="750" x2="468.2" y2="750" stroke="#f00" stroke-width="1.1" stroke-linecap="butt"/>
<line x1="464.6" y1="755.01" x2="468.2" y2="755.01" stroke="#f00" stroke-width="1.1" stroke-linecap="butt"/>
<line x1="481.1" y1="750" x2="481.1" y2="755.01" stroke="#f00" stroke-width="1.0" stroke-linecap="butt"/>
<line x1="479.3" y1="750" x2="482.9" y2="750" stroke="#f00" stroke-width="1.1" stroke-linecap="butt"/>
<line x1="479.3" y1="755.01" x2="482.9" y2="755.01" stroke="#f00" stroke-width="1.1" stroke-linecap="butt"/>
<line x1="495.8" y1="744.35" x2="495.8" y2="759.4" stroke="#f00" stroke-width="1.0" stroke-linecap="butt"/>
<line x1="494" y1="744.35" x2="497.6" y2="744.35" stroke="#f00" stroke-width="1.1" stroke-linecap="butt"/>
<line x1="494" y1="759.4" x2="497.6" y2="759.4" stroke="#f00" stroke-width="1.1" stroke-linecap="butt"/>
<line x1="517.85" y1="752.51" x2="517.85" y2="757.52" stroke="#f00" stroke-width="1.0" stroke-linecap="butt"/>
<line x1="516.05" y1="752.51" x2="519.65" y2="752.51" stroke="#f00" stroke-width="1.1" stroke-linecap="butt"/>
<line x1="516.05" y1="757.52" x2="519.65" y2="757.52" stroke="#f00" stroke-width="1.1" stroke-linecap="butt"/>
<line x1="554.6" y1="742.47" x2="554.6" y2="757.52" stroke="#f00" stroke-width="1.0" stroke-linecap="butt"/>
<line x1="552.8" y1="742.47" x2="556.4" y2="742.47" stroke="#f00" stroke-width="1.1" stroke-linecap="butt"/>
<line x1="552.8" y1="757.52" x2="556.4" y2="757.52" stroke="#f00" stroke-width="1.1" stroke-linecap="butt"/>
<line x1="584" y1="750" x2="584" y2="755.01" stroke="#f00" stroke-width="1.0" stroke-linecap="butt"/>
<line x1="582.2" y1="750" x2="585.8" y2="750" stroke="#f00" stroke-width="1.1" stroke-linecap="butt"/>
<line x1="582.2" y1="755.01" x2="585.8" y2="755.01" stroke="#f00" stroke-width="1.1" stroke-linecap="butt"/>
<line x1="606.05" y1="752.51" x2="606.05" y2="756.27" stroke="#f00" stroke-width="1.0" stroke-linecap="butt"/>
<line x1="604.25" y1="752.51" x2="607.85" y2="752.51" stroke="#f00" stroke-width="1.1" stroke-linecap="butt"/>
<line x1="604.25" y1="756.27" x2="607.85" y2="756.27" stroke="#f00" stroke-width="1.1" stroke-linecap="butt"/>
<polyline points="378.2,751.25 392.9,645.92 407.6,684.16 422.3,736.2 437,753.13 451.7,753.76 466.4,752.51 481.1,752.51 495.8,751.88 517.85,755.01 554.6,750 584,752.51 606.05,754.39" fill="none" stroke="#f00" stroke-width="2.0" stroke-linejoin="miter" stroke-dasharray="5,3"/>
<circle cx="378.2" cy="751.25" r="1.8" fill="#f00"/>
<circle cx="392.9" cy="645.92" r="1.8" fill="#f00"/>
<circle cx="407.6" cy="684.16" r="1.8" fill="#f00"/>
<circle cx="422.3" cy="736.2" r="1.8" fill="#f00"/>
<circle cx="437" cy="753.13" r="1.8" fill="#f00"/>
<circle cx="451.7" cy="753.76" r="1.8" fill="#f00"/>
<circle cx="466.4" cy="752.51" r="1.8" fill="#f00"/>
<circle cx="481.1" cy="752.51" r="1.8" fill="#f00"/>
<circle cx="495.8" cy="751.88" r="1.8" fill="#f00"/>
<circle cx="517.85" cy="755.01" r="1.8" fill="#f00"/>
<circle cx="554.6" cy="750" r="1.8" fill="#f00"/>
<circle cx="584" cy="752.51" r="1.8" fill="#f00"/>
<circle cx="606.05" cy="754.39" r="1.8" fill="#f00"/>
<line x1="392.9" y1="668.49" x2="392.9" y2="696.08" stroke="#333" stroke-width="1.0" stroke-linecap="butt"/>
<line x1="391.1" y1="668.49" x2="394.7" y2="668.49" stroke="#333" stroke-width="1.1" stroke-linecap="butt"/>
<line x1="391.1" y1="696.08" x2="394.7" y2="696.08" stroke="#333" stroke-width="1.1" stroke-linecap="butt"/>
<line x1="407.6" y1="737.46" x2="407.6" y2="747.49" stroke="#333" stroke-width="1.0" stroke-linecap="butt"/>
<line x1="405.8" y1="737.46" x2="409.4" y2="737.46" stroke="#333" stroke-width="1.1" stroke-linecap="butt"/>
<line x1="405.8" y1="747.49" x2="409.4" y2="747.49" stroke="#333" stroke-width="1.1" stroke-linecap="butt"/>
<line x1="422.3" y1="743.73" x2="422.3" y2="763.79" stroke="#333" stroke-width="1.0" stroke-linecap="butt"/>
<line x1="420.5" y1="743.73" x2="424.1" y2="743.73" stroke="#333" stroke-width="1.1" stroke-linecap="butt"/>
<line x1="420.5" y1="763.79" x2="424.1" y2="763.79" stroke="#333" stroke-width="1.1" stroke-linecap="butt"/>
<line x1="437" y1="744.35" x2="437" y2="761.91" stroke="#333" stroke-width="1.0" stroke-linecap="butt"/>
<line x1="435.2" y1="744.35" x2="438.8" y2="744.35" stroke="#333" stroke-width="1.1" stroke-linecap="butt"/>
<line x1="435.2" y1="761.91" x2="438.8" y2="761.91" stroke="#333" stroke-width="1.1" stroke-linecap="butt"/>
<line x1="451.7" y1="738.08" x2="451.7" y2="758.15" stroke="#333" stroke-width="1.0" stroke-linecap="butt"/>
<line x1="449.9" y1="738.08" x2="453.5" y2="738.08" stroke="#333" stroke-width="1.1" stroke-linecap="butt"/>
<line x1="449.9" y1="758.15" x2="453.5" y2="758.15" stroke="#333" stroke-width="1.1" stroke-linecap="butt"/>
<line x1="466.4" y1="745.92" x2="466.4" y2="759.72" stroke="#333" stroke-width="1.0" stroke-linecap="butt"/>
<line x1="464.6" y1="745.92" x2="468.2" y2="745.92" stroke="#333" stroke-width="1.1" stroke-linecap="butt"/>
<line x1="464.6" y1="759.72" x2="468.2" y2="759.72" stroke="#333" stroke-width="1.1" stroke-linecap="butt"/>
<line x1="481.1" y1="744.73" x2="481.1" y2="758.53" stroke="#333" stroke-width="1.0" stroke-linecap="butt"/>
<line x1="479.3" y1="744.73" x2="482.9" y2="744.73" stroke="#333" stroke-width="1.1" stroke-linecap="butt"/>
<line x1="479.3" y1="758.53" x2="482.9" y2="758.53" stroke="#333" stroke-width="1.1" stroke-linecap="butt"/>
<line x1="495.8" y1="745.92" x2="495.8" y2="759.72" stroke="#333" stroke-width="1.0" stroke-linecap="butt"/>
<line x1="494" y1="745.92" x2="497.6" y2="745.92" stroke="#333" stroke-width="1.1" stroke-linecap="butt"/>
<line x1="494" y1="759.72" x2="497.6" y2="759.72" stroke="#333" stroke-width="1.1" stroke-linecap="butt"/>
<line x1="517.85" y1="750" x2="517.85" y2="760.03" stroke="#333" stroke-width="1.0" stroke-linecap="butt"/>
<line x1="516.05" y1="750" x2="519.65" y2="750" stroke="#333" stroke-width="1.1" stroke-linecap="butt"/>
<line x1="516.05" y1="760.03" x2="519.65" y2="760.03" stroke="#333" stroke-width="1.1" stroke-linecap="butt"/>
<line x1="554.6" y1="745.3" x2="554.6" y2="759.09" stroke="#333" stroke-width="1.0" stroke-linecap="butt"/>
<line x1="552.8" y1="745.3" x2="556.4" y2="745.3" stroke="#333" stroke-width="1.1" stroke-linecap="butt"/>
<line x1="552.8" y1="759.09" x2="556.4" y2="759.09" stroke="#333" stroke-width="1.1" stroke-linecap="butt"/>
<line x1="584" y1="747.18" x2="584" y2="757.21" stroke="#333" stroke-width="1.0" stroke-linecap="butt"/>
<line x1="582.2" y1="747.18" x2="585.8" y2="747.18" stroke="#333" stroke-width="1.1" stroke-linecap="butt"/>
<line x1="582.2" y1="757.21" x2="585.8" y2="757.21" stroke="#333" stroke-width="1.1" stroke-linecap="butt"/>
<line x1="606.05" y1="750.62" x2="606.05" y2="758.15" stroke="#333" stroke-width="1.0" stroke-linecap="butt"/>
<line x1="604.25" y1="750.62" x2="607.85" y2="750.62" stroke="#333" stroke-width="1.1" stroke-linecap="butt"/>
<line x1="604.25" y1="758.15" x2="607.85" y2="758.15" stroke="#333" stroke-width="1.1" stroke-linecap="butt"/>
<polyline points="378.2,755.64 392.9,682.28 407.6,742.47 422.3,753.76 437,753.13 451.7,748.12 466.4,752.82 481.1,751.63 495.8,752.82 517.85,755.01 554.6,752.19 584,752.19 606.05,754.39" fill="none" stroke="#000" stroke-width="1.9" stroke-linejoin="miter"/>
<circle cx="378.2" cy="755.64" r="1.8" fill="#000"/>
<circle cx="392.9" cy="682.28" r="1.8" fill="#000"/>
<circle cx="407.6" cy="742.47" r="1.8" fill="#000"/>
<circle cx="422.3" cy="753.76" r="1.8" fill="#000"/>
<circle cx="437" cy="753.13" r="1.8" fill="#000"/>
<circle cx="451.7" cy="748.12" r="1.8" fill="#000"/>
<circle cx="466.4" cy="752.82" r="1.8" fill="#000"/>
<circle cx="481.1" cy="751.63" r="1.8" fill="#000"/>
<circle cx="495.8" cy="752.82" r="1.8" fill="#000"/>
<circle cx="517.85" cy="755.01" r="1.8" fill="#000"/>
<circle cx="554.6" cy="752.19" r="1.8" fill="#000"/>
<circle cx="584" cy="752.19" r="1.8" fill="#000"/>
<circle cx="606.05" cy="754.39" r="1.8" fill="#000"/>
<text x="349.8" y="688.15" font-size="11.8" font-family="'Liberation Serif', 'Times New Roman', serif" text-anchor="middle" fill="#111" transform="rotate(-90 349.8 688.15)">Reducing sugar(μg/mL)</text>
<text x="495.9" y="798" font-size="12.3" font-family="'Liberation Serif', 'Times New Roman', serif" text-anchor="middle" fill="#111">Time/d</text>
<line x1="533.5" y1="618" x2="550" y2="618" stroke="#000" stroke-width="2" stroke-linecap="butt"/>
<circle cx="541.8" cy="618" r="1.8" fill="#000"/>
<line x1="533.5" y1="644.1" x2="550" y2="644.1" stroke="#f00" stroke-width="2" stroke-linecap="butt" stroke-dasharray="4,3"/>
<path d="M539.6,642.1 L542.6,642.1 L545.2,644.1 L542.6,646.1 L539.6,646.1 Z" fill="#f00"/>
<text x="560" y="622.8" font-size="13" font-family="'Liberation Sans', Arial, sans-serif" text-anchor="start" fill="#111">Control</text>
<text x="560" y="648.4" font-size="13" font-family="'Liberation Sans', Arial, sans-serif" text-anchor="start" fill="#111">6 mM MHF</text>
<text x="393.5" y="635.8" font-size="8" font-family="'Liberation Sans', Arial, sans-serif" font-weight="bold" letter-spacing="1.1" text-anchor="middle" fill="#111" style="stroke-width:0.45px">****</text>
<text x="408.1" y="667.4" font-size="8" font-family="'Liberation Sans', Arial, sans-serif" font-weight="bold" letter-spacing="1.1" text-anchor="middle" fill="#111" style="stroke-width:0.45px">****</text>
<text x="424.6" y="730.5" font-size="8" font-family="'Liberation Sans', Arial, sans-serif" font-weight="bold" letter-spacing="1.1" text-anchor="middle" fill="#111" style="stroke-width:0.45px">***</text>
<rect x="1" y="1" width="637" height="803" fill="none" stroke="#000" stroke-width="2"/>
</svg>
</body></html>
